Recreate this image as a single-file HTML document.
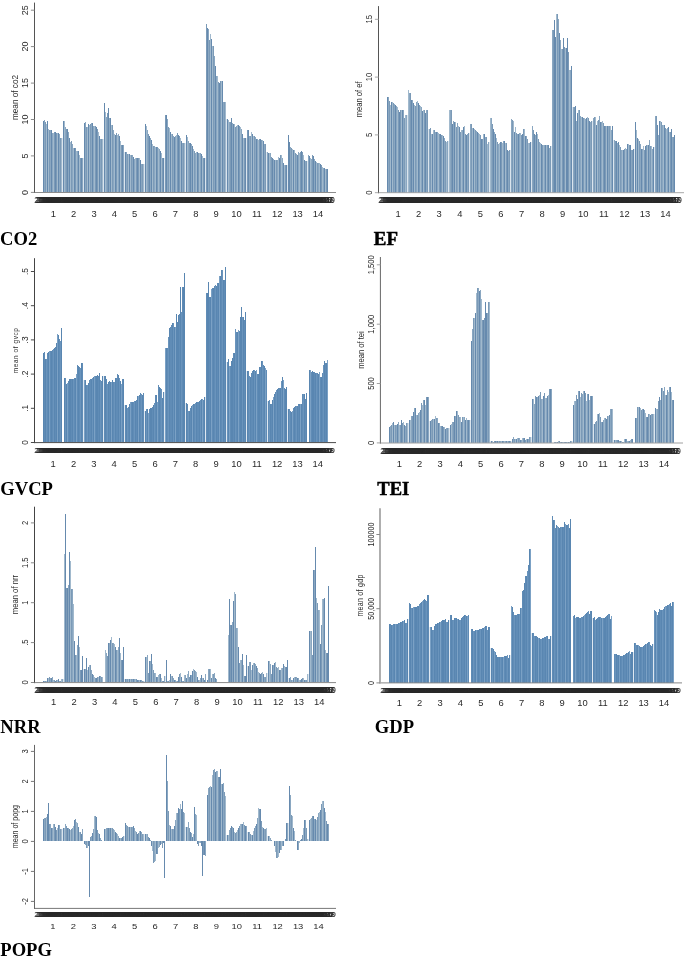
<!DOCTYPE html><html><head><meta charset="utf-8"><title>Figure</title><style>html,body{margin:0;padding:0;background:#fff}svg{display:block}text{font-family:"Liberation Sans",sans-serif;fill:#2a2a2a}.t{font-family:"Liberation Serif",serif;font-weight:bold;fill:#000}</style></head><body>
<svg width="685" height="957" viewBox="0 0 685 957">
<rect width="685" height="957" fill="#fff"/>
<g fill="none" stroke-width="1" shape-rendering="crispEdges">
<path stroke="#668aae" d="M43.5 192.0V120.7M47.5 192.0V121.2M51.5 192.0V129.5M55.5 192.0V132.3M58.5 192.0V133.2M63.5 192.0V121.3M67.5 192.0V129.3M69.5 192.0V138.1M74.5 192.0V148.4M78.5 192.0V151.4M81.5 192.0V158.1M84.5 192.0V122.6M88.5 192.0V123.5M92.5 192.0V123.1M96.5 192.0V126.9M99.5 192.0V135.5M104.5 192.0V103.0M108.5 192.0V107.9M110.5 192.0V118.2M115.5 192.0V134.7M119.5 192.0V136.2M122.5 192.0V144.6M125.5 192.0V151.7M129.5 192.0V153.7M133.5 192.0V157.4M137.5 192.0V158.1M140.5 192.0V160.0M145.5 192.0V123.5M149.5 192.0V136.3M151.5 192.0V140.0M156.5 192.0V147.2M160.5 192.0V150.6M163.5 192.0V157.8M166.5 192.0V115.4M170.5 192.0V131.6M174.5 192.0V136.8M178.5 192.0V135.2M181.5 192.0V141.0M186.5 192.0V135.4M190.5 192.0V142.6M192.5 192.0V146.1M197.5 192.0V152.3M201.5 192.0V153.9M204.5 192.0V158.0M207.5 192.0V28.2M211.5 192.0V39.3M215.5 192.0V66.3M219.5 192.0V82.7M222.5 192.0V80.8M227.5 192.0V119.3M231.5 192.0V117.5M233.5 192.0V123.9M238.5 192.0V124.6M242.5 192.0V134.1M245.5 192.0V138.0M248.5 192.0V130.3M252.5 192.0V134.3M256.5 192.0V139.3M260.5 192.0V138.8M263.5 192.0V141.4M268.5 192.0V152.5M272.5 192.0V157.9M274.5 192.0V159.5M279.5 192.0V157.5M283.5 192.0V162.7M286.5 192.0V165.0M288.5 192.0V135.4M289.5 192.0V141.5M293.5 192.0V149.6M297.5 192.0V154.5M301.5 192.0V151.0M304.5 192.0V159.8M309.5 192.0V155.5M313.5 192.0V155.6M315.5 192.0V160.7M320.5 192.0V164.3M324.5 192.0V168.4M327.5 192.0V169.0"/>
<path stroke="#7b9ab7" d="M45.5 192.0V121.8M49.5 192.0V129.6M54.5 192.0V131.7M56.5 192.0V132.8M60.5 192.0V138.4M66.5 192.0V129.3M71.5 192.0V141.0M75.5 192.0V148.0M80.5 192.0V158.1M86.5 192.0V126.8M90.5 192.0V123.6M95.5 192.0V126.2M97.5 192.0V129.0M101.5 192.0V139.1M107.5 192.0V113.3M112.5 192.0V125.4M116.5 192.0V132.7M121.5 192.0V144.6M127.5 192.0V153.6M131.5 192.0V155.1M136.5 192.0V158.1M138.5 192.0V158.1M142.5 192.0V163.6M148.5 192.0V134.0M153.5 192.0V145.5M157.5 192.0V147.4M162.5 192.0V157.8M165.5 192.0V115.2M168.5 192.0V127.3M172.5 192.0V134.0M177.5 192.0V132.7M179.5 192.0V135.8M183.5 192.0V143.0M189.5 192.0V142.9M194.5 192.0V151.4M198.5 192.0V152.7M203.5 192.0V157.8M206.5 192.0V23.9M209.5 192.0V39.9M213.5 192.0V46.4M218.5 192.0V82.4M220.5 192.0V80.8M224.5 192.0V101.7M230.5 192.0V122.0M235.5 192.0V126.7M239.5 192.0V125.8M244.5 192.0V137.8M247.5 192.0V130.1M250.5 192.0V136.2M254.5 192.0V136.1M259.5 192.0V138.9M261.5 192.0V140.1M265.5 192.0V144.2M271.5 192.0V157.3M276.5 192.0V160.2M280.5 192.0V154.7M285.5 192.0V164.9M291.5 192.0V147.9M295.5 192.0V153.4M300.5 192.0V152.1M302.5 192.0V152.3M306.5 192.0V160.9M312.5 192.0V155.0M317.5 192.0V162.9M321.5 192.0V165.4M326.5 192.0V169.0"/>
<path stroke="#8aa7c1" d="M44.5 192.0V120.1M50.5 192.0V129.9M52.5 192.0V133.1M59.5 192.0V134.3M65.5 192.0V126.9M68.5 192.0V132.2M72.5 192.0V144.2M77.5 192.0V150.5M82.5 192.0V158.1M85.5 192.0V122.3M91.5 192.0V122.6M93.5 192.0V126.0M100.5 192.0V138.5M106.5 192.0V116.7M109.5 192.0V117.6M113.5 192.0V130.2M118.5 192.0V134.0M123.5 192.0V144.6M126.5 192.0V152.3M132.5 192.0V155.1M134.5 192.0V159.0M141.5 192.0V163.6M147.5 192.0V129.7M150.5 192.0V137.9M154.5 192.0V146.4M159.5 192.0V148.8M167.5 192.0V119.0M173.5 192.0V136.4M175.5 192.0V136.3M182.5 192.0V142.9M188.5 192.0V141.4M191.5 192.0V144.1M195.5 192.0V152.5M200.5 192.0V153.4M208.5 192.0V28.6M214.5 192.0V56.4M216.5 192.0V75.7M223.5 192.0V101.7M229.5 192.0V122.0M232.5 192.0V123.2M236.5 192.0V126.2M241.5 192.0V129.0M249.5 192.0V135.9M255.5 192.0V137.0M257.5 192.0V139.4M264.5 192.0V144.0M267.5 192.0V152.1M270.5 192.0V153.4M273.5 192.0V158.6M277.5 192.0V160.4M282.5 192.0V158.4M290.5 192.0V146.8M296.5 192.0V153.9M298.5 192.0V152.3M305.5 192.0V160.8M308.5 192.0V155.0M311.5 192.0V158.5M314.5 192.0V159.0M318.5 192.0V163.1M323.5 192.0V167.6"/>
<path stroke="#a1b9cd" d="M46.5 192.0V123.9M48.5 192.0V129.3M53.5 192.0V133.1M57.5 192.0V133.2M61.5 192.0V138.4M64.5 192.0V121.3M70.5 192.0V142.3M73.5 192.0V148.0M76.5 192.0V150.5M79.5 192.0V155.2M87.5 192.0V126.8M89.5 192.0V124.8M94.5 192.0V126.1M98.5 192.0V132.2M102.5 192.0V139.4M105.5 192.0V111.6M111.5 192.0V125.3M114.5 192.0V133.7M117.5 192.0V135.0M120.5 192.0V140.9M128.5 192.0V153.7M130.5 192.0V154.7M135.5 192.0V158.2M139.5 192.0V158.1M143.5 192.0V163.6M146.5 192.0V126.4M152.5 192.0V144.0M155.5 192.0V146.9M158.5 192.0V147.5M161.5 192.0V153.1M169.5 192.0V128.0M171.5 192.0V134.0M176.5 192.0V134.7M180.5 192.0V137.9M184.5 192.0V143.1M187.5 192.0V137.4M193.5 192.0V148.9M196.5 192.0V152.0M199.5 192.0V153.0M202.5 192.0V155.8M210.5 192.0V34.2M212.5 192.0V45.8M217.5 192.0V76.3M221.5 192.0V80.8M225.5 192.0V101.7M228.5 192.0V119.8M234.5 192.0V124.1M237.5 192.0V124.8M240.5 192.0V127.0M243.5 192.0V137.7M251.5 192.0V132.2M253.5 192.0V135.9M258.5 192.0V139.5M262.5 192.0V139.7M269.5 192.0V153.0M275.5 192.0V160.0M278.5 192.0V157.2M281.5 192.0V155.1M284.5 192.0V164.8M292.5 192.0V148.8M294.5 192.0V150.0M299.5 192.0V152.9M303.5 192.0V154.8M310.5 192.0V157.6M316.5 192.0V162.0M319.5 192.0V163.3M322.5 192.0V166.6M325.5 192.0V169.0"/>
<path stroke="#dbe5ee" d="M62.5 192.0V138.4M83.5 192.0V158.1M103.5 192.0V139.4M124.5 192.0V151.7M144.5 192.0V163.6M164.5 192.0V157.8M185.5 192.0V143.1M205.5 192.0V158.0M226.5 192.0V119.3M246.5 192.0V138.0M266.5 192.0V152.1M287.5 192.0V165.0M307.5 192.0V160.9"/>
</g>
<path d="M34.0 192.5H336.0" fill="none" stroke="#8c8c8c" stroke-width="1"/>
<path d="M34.5 2.6V193.0" fill="none" stroke="#555" stroke-width="1.0"/>
<path d="M30.9 192.4H34.5" stroke="#8c8c8c" stroke-width="1"/>
<text font-size="9.0" fill="#2a2a2a" text-anchor="middle" transform="translate(28.1 192.4) rotate(-90) scale(1 1.08)">0</text>
<path d="M30.9 155.9H34.5" stroke="#8c8c8c" stroke-width="1"/>
<text font-size="9.0" fill="#2a2a2a" text-anchor="middle" transform="translate(28.1 155.9) rotate(-90) scale(1 1.08)">5</text>
<path d="M30.9 119.5H34.5" stroke="#8c8c8c" stroke-width="1"/>
<text font-size="9.0" fill="#2a2a2a" text-anchor="middle" transform="translate(28.1 119.5) rotate(-90) scale(1 1.08)">10</text>
<path d="M30.9 83.1H34.5" stroke="#8c8c8c" stroke-width="1"/>
<text font-size="9.0" fill="#2a2a2a" text-anchor="middle" transform="translate(28.1 83.1) rotate(-90) scale(1 1.08)">15</text>
<path d="M30.9 46.6H34.5" stroke="#8c8c8c" stroke-width="1"/>
<text font-size="9.0" fill="#2a2a2a" text-anchor="middle" transform="translate(28.1 46.6) rotate(-90) scale(1 1.08)">20</text>
<path d="M30.9 10.2H34.5" stroke="#8c8c8c" stroke-width="1"/>
<text font-size="9.0" fill="#2a2a2a" text-anchor="middle" transform="translate(28.1 10.2) rotate(-90) scale(1 1.08)">25</text>
<text font-size="8.2" fill="#2a2a2a" letter-spacing="0.0" text-anchor="middle" transform="translate(17.7 97.5) rotate(-90) scale(1 1.06)">mean of co2</text>
<text font-size="7.90" transform="translate(0 203.0) scale(1 1.184)" x="34.2 38.6 43.0 47.4 35.2 39.6 44.0 48.4 36.2 40.6 44.9 49.3 37.1 41.5 45.9 50.3 38.1 42.5 46.9 51.3 39.1 43.5 47.9 52.3 40.1 44.5 48.9 53.2 41.0 45.4 49.8 54.2 42.0 46.4 50.8 55.2 43.0 47.4 51.8 56.2 44.0 48.4 52.8 57.2 45.0 49.4 53.7 58.1 45.9 50.3 54.7 59.1 46.9 51.3 55.7 60.1 47.9 52.3 56.7 61.1 48.9 53.3 57.7 62.0 49.8 54.2 58.6 63.0 50.8 55.2 59.6 64.0 51.8 56.2 60.6 65.0 52.8 57.2 61.6 66.0" fill="#323232">20002001200220032004200520062007200820092010201120122013201420152016201720182019</text>
<text font-size="7.90" transform="translate(0 203.0) scale(1 1.184)" x="54.6 59.0 63.3 67.7 55.5 59.9 64.3 68.7 56.5 60.9 65.3 69.7 57.5 61.9 66.3 70.7 58.5 62.9 67.3 71.6 59.5 63.8 68.2 72.6 60.4 64.8 69.2 73.6 61.4 65.8 70.2 74.6 62.4 66.8 71.2 75.6 63.4 67.8 72.1 76.5 64.3 68.7 73.1 77.5 65.3 69.7 74.1 78.5 66.3 70.7 75.1 79.5 67.3 71.7 76.1 80.5 68.3 72.6 77.0 81.4 69.2 73.6 78.0 82.4 70.2 74.6 79.0 83.4 71.2 75.6 80.0 84.4 72.2 76.6 80.9 85.3 73.1 77.5 81.9 86.3" fill="#323232">20002001200220032004200520062007200820092010201120122013201420152016201720182019</text>
<text font-size="7.90" transform="translate(0 203.0) scale(1 1.184)" x="74.9 79.3 83.7 88.1 75.9 80.3 84.7 89.1 76.9 81.3 85.7 90.1 77.9 82.2 86.6 91.0 78.8 83.2 87.6 92.0 79.8 84.2 88.6 93.0 80.8 85.2 89.6 94.0 81.8 86.2 90.5 94.9 82.7 87.1 91.5 95.9 83.7 88.1 92.5 96.9 84.7 89.1 93.5 97.9 85.7 90.1 94.5 98.9 86.7 91.0 95.4 99.8 87.6 92.0 96.4 100.8 88.6 93.0 97.4 101.8 89.6 94.0 98.4 102.8 90.6 95.0 99.3 103.7 91.5 95.9 100.3 104.7 92.5 96.9 101.3 105.7 93.5 97.9 102.3 106.7" fill="#323232">20002001200220032004200520062007200820092010201120122013201420152016201720182019</text>
<text font-size="7.90" transform="translate(0 203.0) scale(1 1.184)" x="95.3 99.7 104.1 108.5 96.3 100.6 105.0 109.4 97.2 101.6 106.0 110.4 98.2 102.6 107.0 111.4 99.2 103.6 108.0 112.4 100.2 104.6 108.9 113.3 101.1 105.5 109.9 114.3 102.1 106.5 110.9 115.3 103.1 107.5 111.9 116.3 104.1 108.5 112.9 117.3 105.1 109.4 113.8 118.2 106.0 110.4 114.8 119.2 107.0 111.4 115.8 120.2 108.0 112.4 116.8 121.2 109.0 113.4 117.8 122.1 109.9 114.3 118.7 123.1 110.9 115.3 119.7 124.1 111.9 116.3 120.7 125.1 112.9 117.3 121.7 126.1 113.9 118.2 122.6 127.0" fill="#323232">20002001200220032004200520062007200820092010201120122013201420152016201720182019</text>
<text font-size="7.90" transform="translate(0 203.0) scale(1 1.184)" x="115.6 120.0 124.4 128.8 116.6 121.0 125.4 129.8 117.6 122.0 126.4 130.8 118.6 123.0 127.4 131.7 119.5 123.9 128.3 132.7 120.5 124.9 129.3 133.7 121.5 125.9 130.3 134.7 122.5 126.9 131.3 135.7 123.5 127.8 132.2 136.6 124.4 128.8 133.2 137.6 125.4 129.8 134.2 138.6 126.4 130.8 135.2 139.6 127.4 131.8 136.2 140.5 128.3 132.7 137.1 141.5 129.3 133.7 138.1 142.5 130.3 134.7 139.1 143.5 131.3 135.7 140.1 144.5 132.3 136.6 141.0 145.4 133.2 137.6 142.0 146.4 134.2 138.6 143.0 147.4" fill="#323232">20002001200220032004200520062007200820092010201120122013201420152016201720182019</text>
<text font-size="7.90" transform="translate(0 203.0) scale(1 1.184)" x="136.0 140.4 144.8 149.2 137.0 141.4 145.8 150.1 137.9 142.3 146.7 151.1 138.9 143.3 147.7 152.1 139.9 144.3 148.7 153.1 140.9 145.3 149.7 154.1 141.9 146.2 150.6 155.0 142.8 147.2 151.6 156.0 143.8 148.2 152.6 157.0 144.8 149.2 153.6 158.0 145.8 150.2 154.6 158.9 146.7 151.1 155.5 159.9 147.7 152.1 156.5 160.9 148.7 153.1 157.5 161.9 149.7 154.1 158.5 162.9 150.7 155.1 159.4 163.8 151.6 156.0 160.4 164.8 152.6 157.0 161.4 165.8 153.6 158.0 162.4 166.8 154.6 159.0 163.4 167.7" fill="#323232">20002001200220032004200520062007200820092010201120122013201420152016201720182019</text>
<text font-size="7.90" transform="translate(0 203.0) scale(1 1.184)" x="156.3 160.7 165.1 169.5 157.3 161.7 166.1 170.5 158.3 162.7 167.1 171.5 159.3 163.7 168.1 172.5 160.3 164.7 169.0 173.4 161.2 165.6 170.0 174.4 162.2 166.6 171.0 175.4 163.2 167.6 172.0 176.4 164.2 168.6 173.0 177.3 165.1 169.5 173.9 178.3 166.1 170.5 174.9 179.3 167.1 171.5 175.9 180.3 168.1 172.5 176.9 181.3 169.1 173.5 177.8 182.2 170.0 174.4 178.8 183.2 171.0 175.4 179.8 184.2 172.0 176.4 180.8 185.2 173.0 177.4 181.8 186.1 173.9 178.3 182.7 187.1 174.9 179.3 183.7 188.1" fill="#323232">20002001200220032004200520062007200820092010201120122013201420152016201720182019</text>
<text font-size="7.90" transform="translate(0 203.0) scale(1 1.184)" x="176.7 181.1 185.5 189.9 177.7 182.1 186.5 190.9 178.7 183.1 187.4 191.8 179.6 184.0 188.4 192.8 180.6 185.0 189.4 193.8 181.6 186.0 190.4 194.8 182.6 187.0 191.4 195.7 183.5 187.9 192.3 196.7 184.5 188.9 193.3 197.7 185.5 189.9 194.3 198.7 186.5 190.9 195.3 199.7 187.5 191.9 196.2 200.6 188.4 192.8 197.2 201.6 189.4 193.8 198.2 202.6 190.4 194.8 199.2 203.6 191.4 195.8 200.2 204.5 192.3 196.7 201.1 205.5 193.3 197.7 202.1 206.5 194.3 198.7 203.1 207.5 195.3 199.7 204.1 208.5" fill="#323232">20002001200220032004200520062007200820092010201120122013201420152016201720182019</text>
<text font-size="7.90" transform="translate(0 203.0) scale(1 1.184)" x="197.1 201.5 205.8 210.2 198.0 202.4 206.8 211.2 199.0 203.4 207.8 212.2 200.0 204.4 208.8 213.2 201.0 205.4 209.8 214.1 202.0 206.3 210.7 215.1 202.9 207.3 211.7 216.1 203.9 208.3 212.7 217.1 204.9 209.3 213.7 218.1 205.9 210.3 214.6 219.0 206.8 211.2 215.6 220.0 207.8 212.2 216.6 221.0 208.8 213.2 217.6 222.0 209.8 214.2 218.6 223.0 210.8 215.1 219.5 223.9 211.7 216.1 220.5 224.9 212.7 217.1 221.5 225.9 213.7 218.1 222.5 226.9 214.7 219.1 223.4 227.8 215.6 220.0 224.4 228.8" fill="#323232">20002001200220032004200520062007200820092010201120122013201420152016201720182019</text>
<text font-size="7.90" transform="translate(0 203.0) scale(1 1.184)" x="217.4 221.8 226.2 230.6 218.4 222.8 227.2 231.6 219.4 223.8 228.2 232.6 220.4 224.7 229.1 233.5 221.3 225.7 230.1 234.5 222.3 226.7 231.1 235.5 223.3 227.7 232.1 236.5 224.3 228.7 233.0 237.4 225.2 229.6 234.0 238.4 226.2 230.6 235.0 239.4 227.2 231.6 236.0 240.4 228.2 232.6 237.0 241.4 229.2 233.5 237.9 242.3 230.1 234.5 238.9 243.3 231.1 235.5 239.9 244.3 232.1 236.5 240.9 245.3 233.1 237.5 241.8 246.2 234.0 238.4 242.8 247.2 235.0 239.4 243.8 248.2 236.0 240.4 244.8 249.2" fill="#323232">20002001200220032004200520062007200820092010201120122013201420152016201720182019</text>
<text font-size="7.90" transform="translate(0 203.0) scale(1 1.184)" x="237.8 242.2 246.6 251.0 238.8 243.1 247.5 251.9 239.7 244.1 248.5 252.9 240.7 245.1 249.5 253.9 241.7 246.1 250.5 254.9 242.7 247.1 251.4 255.8 243.6 248.0 252.4 256.8 244.6 249.0 253.4 257.8 245.6 250.0 254.4 258.8 246.6 251.0 255.4 259.8 247.6 251.9 256.3 260.7 248.5 252.9 257.3 261.7 249.5 253.9 258.3 262.7 250.5 254.9 259.3 263.7 251.5 255.9 260.3 264.6 252.4 256.8 261.2 265.6 253.4 257.8 262.2 266.6 254.4 258.8 263.2 267.6 255.4 259.8 264.2 268.6 256.4 260.7 265.1 269.5" fill="#323232">20002001200220032004200520062007200820092010201120122013201420152016201720182019</text>
<text font-size="7.90" transform="translate(0 203.0) scale(1 1.184)" x="258.1 262.5 266.9 271.3 259.1 263.5 267.9 272.3 260.1 264.5 268.9 273.3 261.1 265.5 269.9 274.2 262.0 266.4 270.8 275.2 263.0 267.4 271.8 276.2 264.0 268.4 272.8 277.2 265.0 269.4 273.8 278.2 266.0 270.3 274.7 279.1 266.9 271.3 275.7 280.1 267.9 272.3 276.7 281.1 268.9 273.3 277.7 282.1 269.9 274.3 278.7 283.0 270.8 275.2 279.6 284.0 271.8 276.2 280.6 285.0 272.8 277.2 281.6 286.0 273.8 278.2 282.6 287.0 274.8 279.1 283.5 287.9 275.7 280.1 284.5 288.9 276.7 281.1 285.5 289.9" fill="#323232">20002001200220032004200520062007200820092010201120122013201420152016201720182019</text>
<text font-size="7.90" transform="translate(0 203.0) scale(1 1.184)" x="278.5 282.9 287.3 291.7 279.5 283.9 288.3 292.6 280.4 284.8 289.2 293.6 281.4 285.8 290.2 294.6 282.4 286.8 291.2 295.6 283.4 287.8 292.2 296.6 284.4 288.7 293.1 297.5 285.3 289.7 294.1 298.5 286.3 290.7 295.1 299.5 287.3 291.7 296.1 300.5 288.3 292.7 297.1 301.4 289.2 293.6 298.0 302.4 290.2 294.6 299.0 303.4 291.2 295.6 300.0 304.4 292.2 296.6 301.0 305.4 293.2 297.6 301.9 306.3 294.1 298.5 302.9 307.3 295.1 299.5 303.9 308.3 296.1 300.5 304.9 309.3 297.1 301.5 305.9 310.2" fill="#323232">20002001200220032004200520062007200820092010201120122013201420152016201720182019</text>
<text font-size="7.90" transform="translate(0 203.0) scale(1 1.184)" x="298.8 303.2 307.6 312.0 299.8 304.2 308.6 313.0 300.8 305.2 309.6 314.0 301.8 306.2 310.6 315.0 302.8 307.2 311.5 315.9 303.7 308.1 312.5 316.9 304.7 309.1 313.5 317.9 305.7 310.1 314.5 318.9 306.7 311.1 315.5 319.8 307.6 312.0 316.4 320.8 308.6 313.0 317.4 321.8 309.6 314.0 318.4 322.8 310.6 315.0 319.4 323.8 311.6 316.0 320.3 324.7 312.5 316.9 321.3 325.7 313.5 317.9 322.3 326.7 314.5 318.9 323.3 327.7 315.5 319.9 324.3 328.6 316.4 320.8 325.2 329.6 317.4 321.8 326.2 330.6" fill="#323232">20002001200220032004200520062007200820092010201120122013201420152016201720182019</text>
<text font-size="9.4" fill="#2a2a2a" text-anchor="middle" transform="translate(53.3 216.8) scale(1 0.98)">1</text>
<text font-size="9.4" fill="#2a2a2a" text-anchor="middle" transform="translate(73.6 216.8) scale(1 0.98)">2</text>
<text font-size="9.4" fill="#2a2a2a" text-anchor="middle" transform="translate(94.0 216.8) scale(1 0.98)">3</text>
<text font-size="9.4" fill="#2a2a2a" text-anchor="middle" transform="translate(114.4 216.8) scale(1 0.98)">4</text>
<text font-size="9.4" fill="#2a2a2a" text-anchor="middle" transform="translate(134.7 216.8) scale(1 0.98)">5</text>
<text font-size="9.4" fill="#2a2a2a" text-anchor="middle" transform="translate(155.1 216.8) scale(1 0.98)">6</text>
<text font-size="9.4" fill="#2a2a2a" text-anchor="middle" transform="translate(175.4 216.8) scale(1 0.98)">7</text>
<text font-size="9.4" fill="#2a2a2a" text-anchor="middle" transform="translate(195.8 216.8) scale(1 0.98)">8</text>
<text font-size="9.4" fill="#2a2a2a" text-anchor="middle" transform="translate(216.1 216.8) scale(1 0.98)">9</text>
<text font-size="9.4" fill="#2a2a2a" text-anchor="middle" transform="translate(236.5 216.8) scale(1 0.98)">10</text>
<text font-size="9.4" fill="#2a2a2a" text-anchor="middle" transform="translate(256.8 216.8) scale(1 0.98)">11</text>
<text font-size="9.4" fill="#2a2a2a" text-anchor="middle" transform="translate(277.2 216.8) scale(1 0.98)">12</text>
<text font-size="9.4" fill="#2a2a2a" text-anchor="middle" transform="translate(297.6 216.8) scale(1 0.98)">13</text>
<text font-size="9.4" fill="#2a2a2a" text-anchor="middle" transform="translate(317.9 216.8) scale(1 0.98)">14</text>
<text class="t" font-size="18.6" stroke="#000" stroke-width="0.0" transform="translate(0.0 244.8) scale(1 1.06)">CO2</text>
<g fill="none" stroke-width="1" shape-rendering="crispEdges">
<path stroke="#668aae" d="M387.5 192.6V96.5M391.5 192.6V101.6M395.5 192.6V104.7M399.5 192.6V112.1M402.5 192.6V109.6M411.5 192.6V99.7M413.5 192.6V102.6M418.5 192.6V102.9M422.5 192.6V110.5M425.5 192.6V112.8M432.5 192.6V134.1M436.5 192.6V132.0M440.5 192.6V134.2M443.5 192.6V136.2M452.5 192.6V124.0M454.5 192.6V122.0M459.5 192.6V126.7M463.5 192.6V127.3M466.5 192.6V135.2M473.5 192.6V128.4M477.5 192.6V132.0M481.5 192.6V138.9M484.5 192.6V134.4M493.5 192.6V129.1M495.5 192.6V133.6M500.5 192.6V141.6M504.5 192.6V141.3M507.5 192.6V150.3M514.5 192.6V131.7M518.5 192.6V134.2M522.5 192.6V134.4M525.5 192.6V135.7M530.5 192.6V141.7M534.5 192.6V134.2M536.5 192.6V132.0M541.5 192.6V143.6M545.5 192.6V145.4M548.5 192.6V144.6M554.5 192.6V20.3M555.5 192.6V36.8M559.5 192.6V33.3M563.5 192.6V38.1M566.5 192.6V48.1M567.5 192.6V38.3M571.5 192.6V66.0M575.5 192.6V106.4M577.5 192.6V113.2M582.5 192.6V117.4M586.5 192.6V117.6M589.5 192.6V121.1M596.5 192.6V124.9M600.5 192.6V122.0M604.5 192.6V126.0M607.5 192.6V126.0M612.5 192.6V126.4M616.5 192.6V141.4M618.5 192.6V141.9M623.5 192.6V149.5M627.5 192.6V143.9M630.5 192.6V144.9M633.5 192.6V149.3M635.5 192.6V121.9M637.5 192.6V138.1M641.5 192.6V148.8M645.5 192.6V145.8M648.5 192.6V144.8M653.5 192.6V147.3M657.5 192.6V125.2M659.5 192.6V120.5M664.5 192.6V125.4M668.5 192.6V127.3M671.5 192.6V129.3M674.5 192.6V135.1"/>
<path stroke="#7b9ab7" d="M389.5 192.6V100.8M393.5 192.6V102.7M398.5 192.6V110.0M400.5 192.6V110.2M404.5 192.6V117.8M410.5 192.6V93.1M415.5 192.6V105.9M419.5 192.6V105.3M424.5 192.6V110.4M427.5 192.6V110.3M430.5 192.6V128.3M434.5 192.6V130.2M439.5 192.6V133.8M441.5 192.6V134.5M445.5 192.6V141.0M451.5 192.6V109.6M456.5 192.6V127.0M460.5 192.6V131.8M465.5 192.6V133.6M468.5 192.6V133.2M471.5 192.6V124.0M475.5 192.6V129.9M480.5 192.6V135.0M482.5 192.6V139.1M486.5 192.6V137.0M492.5 192.6V124.2M497.5 192.6V141.9M501.5 192.6V142.2M506.5 192.6V143.4M509.5 192.6V149.7M512.5 192.6V120.1M516.5 192.6V132.9M521.5 192.6V134.7M523.5 192.6V129.3M527.5 192.6V138.5M533.5 192.6V130.2M538.5 192.6V139.1M542.5 192.6V144.5M547.5 192.6V144.6M550.5 192.6V146.1M553.5 192.6V30.1M557.5 192.6V14.1M562.5 192.6V49.1M564.5 192.6V46.9M568.5 192.6V51.5M574.5 192.6V106.7M579.5 192.6V110.3M583.5 192.6V117.7M588.5 192.6V117.6M591.5 192.6V121.3M594.5 192.6V117.4M598.5 192.6V120.2M603.5 192.6V122.5M605.5 192.6V126.2M609.5 192.6V125.9M615.5 192.6V140.5M620.5 192.6V146.6M624.5 192.6V148.7M629.5 192.6V144.6M632.5 192.6V149.7M639.5 192.6V140.7M644.5 192.6V149.7M646.5 192.6V145.1M650.5 192.6V146.1M656.5 192.6V116.2M661.5 192.6V121.6M665.5 192.6V128.1M670.5 192.6V131.7M673.5 192.6V136.6"/>
<path stroke="#8aa7c1" d="M388.5 192.6V96.7M394.5 192.6V103.7M396.5 192.6V105.8M403.5 192.6V109.6M406.5 192.6V115.2M409.5 192.6V93.1M412.5 192.6V99.7M416.5 192.6V101.5M421.5 192.6V106.9M426.5 192.6V110.3M429.5 192.6V128.5M435.5 192.6V131.8M437.5 192.6V132.2M444.5 192.6V138.1M447.5 192.6V141.2M450.5 192.6V109.9M453.5 192.6V120.7M457.5 192.6V122.7M462.5 192.6V129.5M467.5 192.6V133.6M470.5 192.6V124.2M476.5 192.6V131.0M478.5 192.6V133.0M485.5 192.6V137.2M488.5 192.6V142.2M491.5 192.6V117.7M494.5 192.6V131.8M498.5 192.6V143.9M503.5 192.6V141.0M508.5 192.6V150.7M511.5 192.6V119.1M517.5 192.6V134.0M519.5 192.6V133.3M526.5 192.6V136.1M529.5 192.6V142.9M532.5 192.6V126.2M535.5 192.6V135.1M539.5 192.6V141.7M544.5 192.6V145.4M549.5 192.6V148.1M552.5 192.6V30.1M558.5 192.6V18.8M560.5 192.6V40.1M570.5 192.6V70.0M573.5 192.6V106.9M576.5 192.6V121.3M580.5 192.6V115.6M585.5 192.6V118.6M590.5 192.6V122.1M593.5 192.6V118.0M599.5 192.6V116.2M601.5 192.6V121.9M608.5 192.6V125.9M611.5 192.6V130.0M614.5 192.6V140.3M617.5 192.6V143.1M621.5 192.6V149.8M626.5 192.6V148.7M631.5 192.6V150.1M640.5 192.6V144.1M642.5 192.6V149.0M649.5 192.6V140.3M652.5 192.6V148.6M655.5 192.6V116.2M658.5 192.6V135.0M662.5 192.6V125.4M667.5 192.6V128.1M672.5 192.6V136.6"/>
<path stroke="#a1b9cd" d="M390.5 192.6V105.2M392.5 192.6V102.0M397.5 192.6V107.3M401.5 192.6V109.7M405.5 192.6V115.4M408.5 192.6V89.6M414.5 192.6V105.4M417.5 192.6V100.7M420.5 192.6V106.2M423.5 192.6V110.4M431.5 192.6V133.7M433.5 192.6V129.7M438.5 192.6V133.2M442.5 192.6V134.7M446.5 192.6V142.4M449.5 192.6V110.2M455.5 192.6V122.3M458.5 192.6V126.4M461.5 192.6V129.9M464.5 192.6V125.9M472.5 192.6V127.7M474.5 192.6V128.8M479.5 192.6V134.0M483.5 192.6V134.4M487.5 192.6V143.8M490.5 192.6V118.0M496.5 192.6V137.5M499.5 192.6V143.2M502.5 192.6V143.2M505.5 192.6V143.2M513.5 192.6V120.5M515.5 192.6V127.4M520.5 192.6V133.1M524.5 192.6V129.3M528.5 192.6V142.6M537.5 192.6V134.4M540.5 192.6V142.9M543.5 192.6V145.4M546.5 192.6V145.2M556.5 192.6V14.1M561.5 192.6V49.1M565.5 192.6V48.1M569.5 192.6V70.0M578.5 192.6V109.9M581.5 192.6V117.0M584.5 192.6V118.0M587.5 192.6V117.2M595.5 192.6V116.9M597.5 192.6V120.5M602.5 192.6V121.3M606.5 192.6V126.3M610.5 192.6V125.9M619.5 192.6V144.6M622.5 192.6V150.1M625.5 192.6V148.4M628.5 192.6V143.9M636.5 192.6V129.9M638.5 192.6V138.5M643.5 192.6V145.8M647.5 192.6V144.5M651.5 192.6V146.3M660.5 192.6V120.5M663.5 192.6V125.4M666.5 192.6V129.3M669.5 192.6V131.5"/>
<path stroke="#dbe5ee" d="M407.5 192.6V115.2M428.5 192.6V128.5M448.5 192.6V141.2M469.5 192.6V133.2M489.5 192.6V142.2M510.5 192.6V149.7M531.5 192.6V141.7M551.5 192.6V146.1M572.5 192.6V106.9M592.5 192.6V121.3M613.5 192.6V140.3M634.5 192.6V149.3M654.5 192.6V147.3"/>
</g>
<path d="M378.0 192.7H684.0" fill="none" stroke="#a8a8a8" stroke-width="1"/>
<path d="M378.5 6.1V193.2" fill="none" stroke="#555" stroke-width="1.0"/>
<path d="M374.9 192.7H378.5" stroke="#a8a8a8" stroke-width="1"/>
<text font-size="7.6" fill="#2a2a2a" text-anchor="middle" transform="translate(372.1 192.7) rotate(-90) scale(1 1.14)">0</text>
<path d="M374.9 134.9H378.5" stroke="#a8a8a8" stroke-width="1"/>
<text font-size="7.6" fill="#2a2a2a" text-anchor="middle" transform="translate(372.1 134.9) rotate(-90) scale(1 1.14)">5</text>
<path d="M374.9 77.1H378.5" stroke="#a8a8a8" stroke-width="1"/>
<text font-size="7.6" fill="#2a2a2a" text-anchor="middle" transform="translate(372.1 77.1) rotate(-90) scale(1 1.14)">10</text>
<path d="M374.9 19.3H378.5" stroke="#a8a8a8" stroke-width="1"/>
<text font-size="7.6" fill="#2a2a2a" text-anchor="middle" transform="translate(372.1 19.3) rotate(-90) scale(1 1.14)">15</text>
<text font-size="7.6" fill="#2a2a2a" letter-spacing="0.0" text-anchor="middle" transform="translate(361.7 99.4) rotate(-90) scale(1 1.14)">mean of ef</text>
<text font-size="7.90" transform="translate(0 203.4) scale(1 1.131)" x="378.2 382.6 387.0 391.4 379.2 383.6 388.0 392.4 380.2 384.6 389.0 393.4 381.2 385.6 390.0 394.4 382.2 386.6 390.9 395.3 383.2 387.5 391.9 396.3 384.1 388.5 392.9 397.3 385.1 389.5 393.9 398.3 386.1 390.5 394.9 399.3 387.1 391.5 395.9 400.3 388.1 392.5 396.9 401.3 389.1 393.5 397.9 402.3 390.1 394.5 398.9 403.2 391.1 395.5 399.8 404.2 392.0 396.4 400.8 405.2 393.0 397.4 401.8 406.2 394.0 398.4 402.8 407.2 395.0 399.4 403.8 408.2 396.0 400.4 404.8 409.2 397.0 401.4 405.8 410.2" fill="#323232">20002001200220032004200520062007200820092010201120122013201420152016201720182019</text>
<text font-size="7.90" transform="translate(0 203.4) scale(1 1.131)" x="398.8 403.2 407.6 412.0 399.8 404.2 408.6 412.9 400.8 405.2 409.5 413.9 401.7 406.1 410.5 414.9 402.7 407.1 411.5 415.9 403.7 408.1 412.5 416.9 404.7 409.1 413.5 417.9 405.7 410.1 414.5 418.9 406.7 411.1 415.5 419.9 407.7 412.1 416.5 420.9 408.7 413.1 417.5 421.8 409.7 414.0 418.4 422.8 410.6 415.0 419.4 423.8 411.6 416.0 420.4 424.8 412.6 417.0 421.4 425.8 413.6 418.0 422.4 426.8 414.6 419.0 423.4 427.8 415.6 420.0 424.4 428.8 416.6 421.0 425.4 429.8 417.6 422.0 426.3 430.7" fill="#323232">20002001200220032004200520062007200820092010201120122013201420152016201720182019</text>
<text font-size="7.90" transform="translate(0 203.4) scale(1 1.131)" x="419.4 423.7 428.1 432.5 420.3 424.7 429.1 433.5 421.3 425.7 430.1 434.5 422.3 426.7 431.1 435.5 423.3 427.7 432.1 436.5 424.3 428.7 433.1 437.5 425.3 429.7 434.1 438.5 426.3 430.7 435.1 439.4 427.3 431.7 436.0 440.4 428.2 432.6 437.0 441.4 429.2 433.6 438.0 442.4 430.2 434.6 439.0 443.4 431.2 435.6 440.0 444.4 432.2 436.6 441.0 445.4 433.2 437.6 442.0 446.4 434.2 438.6 443.0 447.4 435.2 439.6 444.0 448.3 436.2 440.6 444.9 449.3 437.1 441.5 445.9 450.3 438.1 442.5 446.9 451.3" fill="#323232">20002001200220032004200520062007200820092010201120122013201420152016201720182019</text>
<text font-size="7.90" transform="translate(0 203.4) scale(1 1.131)" x="439.9 444.3 448.7 453.1 440.9 445.3 449.7 454.1 441.9 446.3 450.7 455.1 442.9 447.3 451.7 456.1 443.9 448.3 452.7 457.1 444.9 449.3 453.7 458.0 445.9 450.2 454.6 459.0 446.8 451.2 455.6 460.0 447.8 452.2 456.6 461.0 448.8 453.2 457.6 462.0 449.8 454.2 458.6 463.0 450.8 455.2 459.6 464.0 451.8 456.2 460.6 465.0 452.8 457.2 461.6 466.0 453.8 458.2 462.5 466.9 454.8 459.1 463.5 467.9 455.7 460.1 464.5 468.9 456.7 461.1 465.5 469.9 457.7 462.1 466.5 470.9 458.7 463.1 467.5 471.9" fill="#323232">20002001200220032004200520062007200820092010201120122013201420152016201720182019</text>
<text font-size="7.90" transform="translate(0 203.4) scale(1 1.131)" x="460.5 464.9 469.3 473.7 461.5 465.9 470.3 474.7 462.5 466.9 471.3 475.6 463.5 467.9 472.2 476.6 464.4 468.8 473.2 477.6 465.4 469.8 474.2 478.6 466.4 470.8 475.2 479.6 467.4 471.8 476.2 480.6 468.4 472.8 477.2 481.6 469.4 473.8 478.2 482.6 470.4 474.8 479.2 483.6 471.4 475.8 480.2 484.5 472.4 476.8 481.1 485.5 473.3 477.7 482.1 486.5 474.3 478.7 483.1 487.5 475.3 479.7 484.1 488.5 476.3 480.7 485.1 489.5 477.3 481.7 486.1 490.5 478.3 482.7 487.1 491.5 479.3 483.7 488.1 492.5" fill="#323232">20002001200220032004200520062007200820092010201120122013201420152016201720182019</text>
<text font-size="7.90" transform="translate(0 203.4) scale(1 1.131)" x="481.1 485.5 489.9 494.2 482.1 486.4 490.8 495.2 483.0 487.4 491.8 496.2 484.0 488.4 492.8 497.2 485.0 489.4 493.8 498.2 486.0 490.4 494.8 499.2 487.0 491.4 495.8 500.2 488.0 492.4 496.8 501.2 489.0 493.4 497.8 502.2 490.0 494.4 498.7 503.1 491.0 495.3 499.7 504.1 491.9 496.3 500.7 505.1 492.9 497.3 501.7 506.1 493.9 498.3 502.7 507.1 494.9 499.3 503.7 508.1 495.9 500.3 504.7 509.1 496.9 501.3 505.7 510.1 497.9 502.3 506.7 511.0 498.9 503.3 507.6 512.0 499.8 504.2 508.6 513.0" fill="#323232">20002001200220032004200520062007200820092010201120122013201420152016201720182019</text>
<text font-size="7.90" transform="translate(0 203.4) scale(1 1.131)" x="501.6 506.0 510.4 514.8 502.6 507.0 511.4 515.8 503.6 508.0 512.4 516.8 504.6 509.0 513.4 517.8 505.6 510.0 514.4 518.8 506.6 511.0 515.4 519.8 507.6 512.0 516.4 520.7 508.6 513.0 517.3 521.7 509.5 513.9 518.3 522.7 510.5 514.9 519.3 523.7 511.5 515.9 520.3 524.7 512.5 516.9 521.3 525.7 513.5 517.9 522.3 526.7 514.5 518.9 523.3 527.7 515.5 519.9 524.3 528.7 516.5 520.9 525.3 529.6 517.5 521.8 526.2 530.6 518.4 522.8 527.2 531.6 519.4 523.8 528.2 532.6 520.4 524.8 529.2 533.6" fill="#323232">20002001200220032004200520062007200820092010201120122013201420152016201720182019</text>
<text font-size="7.90" transform="translate(0 203.4) scale(1 1.131)" x="522.2 526.6 531.0 535.4 523.2 527.6 532.0 536.4 524.2 528.6 533.0 537.4 525.2 529.6 534.0 538.4 526.2 530.6 534.9 539.3 527.2 531.5 535.9 540.3 528.1 532.5 536.9 541.3 529.1 533.5 537.9 542.3 530.1 534.5 538.9 543.3 531.1 535.5 539.9 544.3 532.1 536.5 540.9 545.3 533.1 537.5 541.9 546.3 534.1 538.5 542.9 547.2 535.1 539.5 543.8 548.2 536.0 540.4 544.8 549.2 537.0 541.4 545.8 550.2 538.0 542.4 546.8 551.2 539.0 543.4 547.8 552.2 540.0 544.4 548.8 553.2 541.0 545.4 549.8 554.2" fill="#323232">20002001200220032004200520062007200820092010201120122013201420152016201720182019</text>
<text font-size="7.90" transform="translate(0 203.4) scale(1 1.131)" x="542.8 547.2 551.6 556.0 543.8 548.2 552.6 556.9 544.8 549.2 553.5 557.9 545.7 550.1 554.5 558.9 546.7 551.1 555.5 559.9 547.7 552.1 556.5 560.9 548.7 553.1 557.5 561.9 549.7 554.1 558.5 562.9 550.7 555.1 559.5 563.9 551.7 556.1 560.5 564.9 552.7 557.1 561.5 565.8 553.7 558.0 562.4 566.8 554.6 559.0 563.4 567.8 555.6 560.0 564.4 568.8 556.6 561.0 565.4 569.8 557.6 562.0 566.4 570.8 558.6 563.0 567.4 571.8 559.6 564.0 568.4 572.8 560.6 565.0 569.4 573.8 561.6 566.0 570.3 574.7" fill="#323232">20002001200220032004200520062007200820092010201120122013201420152016201720182019</text>
<text font-size="7.90" transform="translate(0 203.4) scale(1 1.131)" x="563.4 567.7 572.1 576.5 564.3 568.7 573.1 577.5 565.3 569.7 574.1 578.5 566.3 570.7 575.1 579.5 567.3 571.7 576.1 580.5 568.3 572.7 577.1 581.5 569.3 573.7 578.1 582.5 570.3 574.7 579.1 583.4 571.3 575.7 580.0 584.4 572.2 576.6 581.0 585.4 573.2 577.6 582.0 586.4 574.2 578.6 583.0 587.4 575.2 579.6 584.0 588.4 576.2 580.6 585.0 589.4 577.2 581.6 586.0 590.4 578.2 582.6 587.0 591.4 579.2 583.6 588.0 592.3 580.2 584.6 588.9 593.3 581.1 585.5 589.9 594.3 582.1 586.5 590.9 595.3" fill="#323232">20002001200220032004200520062007200820092010201120122013201420152016201720182019</text>
<text font-size="7.90" transform="translate(0 203.4) scale(1 1.131)" x="583.9 588.3 592.7 597.1 584.9 589.3 593.7 598.1 585.9 590.3 594.7 599.1 586.9 591.3 595.7 600.1 587.9 592.3 596.7 601.1 588.9 593.3 597.7 602.0 589.9 594.2 598.6 603.0 590.8 595.2 599.6 604.0 591.8 596.2 600.6 605.0 592.8 597.2 601.6 606.0 593.8 598.2 602.6 607.0 594.8 599.2 603.6 608.0 595.8 600.2 604.6 609.0 596.8 601.2 605.6 610.0 597.8 602.2 606.5 610.9 598.8 603.1 607.5 611.9 599.7 604.1 608.5 612.9 600.7 605.1 609.5 613.9 601.7 606.1 610.5 614.9 602.7 607.1 611.5 615.9" fill="#323232">20002001200220032004200520062007200820092010201120122013201420152016201720182019</text>
<text font-size="7.90" transform="translate(0 203.4) scale(1 1.131)" x="604.5 608.9 613.3 617.7 605.5 609.9 614.3 618.7 606.5 610.9 615.3 619.6 607.5 611.9 616.2 620.6 608.4 612.8 617.2 621.6 609.4 613.8 618.2 622.6 610.4 614.8 619.2 623.6 611.4 615.8 620.2 624.6 612.4 616.8 621.2 625.6 613.4 617.8 622.2 626.6 614.4 618.8 623.2 627.6 615.4 619.8 624.2 628.5 616.4 620.8 625.1 629.5 617.3 621.7 626.1 630.5 618.3 622.7 627.1 631.5 619.3 623.7 628.1 632.5 620.3 624.7 629.1 633.5 621.3 625.7 630.1 634.5 622.3 626.7 631.1 635.5 623.3 627.7 632.1 636.5" fill="#323232">20002001200220032004200520062007200820092010201120122013201420152016201720182019</text>
<text font-size="7.90" transform="translate(0 203.4) scale(1 1.131)" x="625.1 629.5 633.9 638.2 626.1 630.4 634.8 639.2 627.0 631.4 635.8 640.2 628.0 632.4 636.8 641.2 629.0 633.4 637.8 642.2 630.0 634.4 638.8 643.2 631.0 635.4 639.8 644.2 632.0 636.4 640.8 645.2 633.0 637.4 641.8 646.2 634.0 638.4 642.7 647.1 635.0 639.3 643.7 648.1 635.9 640.3 644.7 649.1 636.9 641.3 645.7 650.1 637.9 642.3 646.7 651.1 638.9 643.3 647.7 652.1 639.9 644.3 648.7 653.1 640.9 645.3 649.7 654.1 641.9 646.3 650.7 655.0 642.9 647.3 651.6 656.0 643.8 648.2 652.6 657.0" fill="#323232">20002001200220032004200520062007200820092010201120122013201420152016201720182019</text>
<text font-size="7.90" transform="translate(0 203.4) scale(1 1.131)" x="645.6 650.0 654.4 658.8 646.6 651.0 655.4 659.8 647.6 652.0 656.4 660.8 648.6 653.0 657.4 661.8 649.6 654.0 658.4 662.8 650.6 655.0 659.4 663.8 651.6 656.0 660.4 664.7 652.6 657.0 661.3 665.7 653.5 657.9 662.3 666.7 654.5 658.9 663.3 667.7 655.5 659.9 664.3 668.7 656.5 660.9 665.3 669.7 657.5 661.9 666.3 670.7 658.5 662.9 667.3 671.7 659.5 663.9 668.3 672.7 660.5 664.9 669.3 673.6 661.5 665.8 670.2 674.6 662.4 666.8 671.2 675.6 663.4 667.8 672.2 676.6 664.4 668.8 673.2 677.6" fill="#323232">20002001200220032004200520062007200820092010201120122013201420152016201720182019</text>
<text font-size="9.4" fill="#2a2a2a" text-anchor="middle" transform="translate(398.1 217.0) scale(1 0.98)">1</text>
<text font-size="9.4" fill="#2a2a2a" text-anchor="middle" transform="translate(418.7 217.0) scale(1 0.98)">2</text>
<text font-size="9.4" fill="#2a2a2a" text-anchor="middle" transform="translate(439.2 217.0) scale(1 0.98)">3</text>
<text font-size="9.4" fill="#2a2a2a" text-anchor="middle" transform="translate(459.8 217.0) scale(1 0.98)">4</text>
<text font-size="9.4" fill="#2a2a2a" text-anchor="middle" transform="translate(480.4 217.0) scale(1 0.98)">5</text>
<text font-size="9.4" fill="#2a2a2a" text-anchor="middle" transform="translate(500.9 217.0) scale(1 0.98)">6</text>
<text font-size="9.4" fill="#2a2a2a" text-anchor="middle" transform="translate(521.5 217.0) scale(1 0.98)">7</text>
<text font-size="9.4" fill="#2a2a2a" text-anchor="middle" transform="translate(542.1 217.0) scale(1 0.98)">8</text>
<text font-size="9.4" fill="#2a2a2a" text-anchor="middle" transform="translate(562.7 217.0) scale(1 0.98)">9</text>
<text font-size="9.4" fill="#2a2a2a" text-anchor="middle" transform="translate(583.2 217.0) scale(1 0.98)">10</text>
<text font-size="9.4" fill="#2a2a2a" text-anchor="middle" transform="translate(603.8 217.0) scale(1 0.98)">11</text>
<text font-size="9.4" fill="#2a2a2a" text-anchor="middle" transform="translate(624.4 217.0) scale(1 0.98)">12</text>
<text font-size="9.4" fill="#2a2a2a" text-anchor="middle" transform="translate(644.9 217.0) scale(1 0.98)">13</text>
<text font-size="9.4" fill="#2a2a2a" text-anchor="middle" transform="translate(665.5 217.0) scale(1 0.98)">14</text>
<text class="t" font-size="18.9" stroke="#000" stroke-width="0.5" transform="translate(373.8 244.6) scale(1 0.98)">EF</text>
<g fill="none" stroke-width="1" shape-rendering="crispEdges">
<path stroke="#5986b1" d="M43.5 442.2V353.4M45.5 442.2V359.3M48.5 442.2V351.9M51.5 442.2V350.8M54.5 442.2V348.4M56.5 442.2V343.0M58.5 442.2V334.5M61.5 442.2V328.3M64.5 442.2V378.3M66.5 442.2V384.4M69.5 442.2V379.4M70.5 442.2V378.8M72.5 442.2V379.0M75.5 442.2V377.7M78.5 442.2V365.7M81.5 442.2V363.2M85.5 442.2V380.0M88.5 442.2V382.5M91.5 442.2V378.6M93.5 442.2V376.8M96.5 442.2V375.6M97.5 442.2V375.4M99.5 442.2V372.9M102.5 442.2V375.9M105.5 442.2V376.4M108.5 442.2V381.7M110.5 442.2V381.5M112.5 442.2V379.5M115.5 442.2V378.3M118.5 442.2V374.5M120.5 442.2V381.4M123.5 442.2V378.9M126.5 442.2V404.6M129.5 442.2V403.9M132.5 442.2V402.0M135.5 442.2V400.5M137.5 442.2V396.2M139.5 442.2V394.9M142.5 442.2V395.4M145.5 442.2V410.5M147.5 442.2V408.5M150.5 442.2V407.8M151.5 442.2V407.6M153.5 442.2V404.7M156.5 442.2V395.4M159.5 442.2V386.7M162.5 442.2V398.0M166.5 442.2V347.6M169.5 442.2V327.9M172.5 442.2V322.8M174.5 442.2V327.2M176.5 442.2V314.3M177.5 442.2V321.6M178.5 442.2V314.7M180.5 442.2V287.4M183.5 442.2V287.0M184.5 442.2V273.4M186.5 442.2V403.4M189.5 442.2V410.9M191.5 442.2V406.1M193.5 442.2V403.9M196.5 442.2V402.2M199.5 442.2V400.6M201.5 442.2V399.4M204.5 442.2V396.8M207.5 442.2V292.8M208.5 442.2V282.2M210.5 442.2V297.2M213.5 442.2V288.1M216.5 442.2V286.3M218.5 442.2V282.7M220.5 442.2V276.1M223.5 442.2V280.4M225.5 442.2V266.6M228.5 442.2V359.1M231.5 442.2V361.1M232.5 442.2V357.6M234.5 442.2V353.2M237.5 442.2V331.6M240.5 442.2V316.5M241.5 442.2V306.5M243.5 442.2V317.0M245.5 442.2V312.0M247.5 442.2V371.2M250.5 442.2V376.7M253.5 442.2V370.1M255.5 442.2V370.8M258.5 442.2V373.9M259.5 442.2V366.9M261.5 442.2V360.8M264.5 442.2V365.8M270.5 442.2V404.1M272.5 442.2V400.2M274.5 442.2V393.5M277.5 442.2V388.7M280.5 442.2V387.5M282.5 442.2V377.4M285.5 442.2V389.4M286.5 442.2V386.6M288.5 442.2V408.6M291.5 442.2V412.3M294.5 442.2V407.1M297.5 442.2V405.6M299.5 442.2V403.9M301.5 442.2V403.5M304.5 442.2V393.9M306.5 442.2V393.2M309.5 442.2V369.9M312.5 442.2V371.3M313.5 442.2V371.6M315.5 442.2V372.5M318.5 442.2V373.8M321.5 442.2V377.1M324.5 442.2V360.5M326.5 442.2V363.2"/>
<path stroke="#608cb6" d="M44.5 442.2V352.0M47.5 442.2V352.5M50.5 442.2V350.6M52.5 442.2V350.1M55.5 442.2V346.6M59.5 442.2V339.0M68.5 442.2V380.7M71.5 442.2V378.6M74.5 442.2V377.9M77.5 442.2V365.4M79.5 442.2V366.8M82.5 442.2V363.2M86.5 442.2V385.1M89.5 442.2V380.0M90.5 442.2V378.8M95.5 442.2V375.8M98.5 442.2V375.9M101.5 442.2V380.7M104.5 442.2V376.0M106.5 442.2V378.9M109.5 442.2V381.4M113.5 442.2V381.6M116.5 442.2V378.3M117.5 442.2V374.3M122.5 442.2V378.9M125.5 442.2V404.8M128.5 442.2V407.1M131.5 442.2V402.1M133.5 442.2V401.5M136.5 442.2V399.7M140.5 442.2V393.3M143.5 442.2V392.9M149.5 442.2V409.2M152.5 442.2V407.2M155.5 442.2V395.4M158.5 442.2V385.1M160.5 442.2V388.1M163.5 442.2V391.7M167.5 442.2V347.6M170.5 442.2V327.4M171.5 442.2V325.1M179.5 442.2V314.4M182.5 442.2V287.0M187.5 442.2V404.4M190.5 442.2V408.0M194.5 442.2V403.5M197.5 442.2V402.1M198.5 442.2V401.8M203.5 442.2V399.7M206.5 442.2V292.8M209.5 442.2V297.2M212.5 442.2V288.3M214.5 442.2V285.5M217.5 442.2V283.0M221.5 442.2V270.4M224.5 442.2V280.4M230.5 442.2V365.6M233.5 442.2V353.2M236.5 442.2V331.6M239.5 442.2V330.6M244.5 442.2V320.4M248.5 442.2V370.5M251.5 442.2V372.5M252.5 442.2V370.7M257.5 442.2V373.9M260.5 442.2V366.9M263.5 442.2V364.5M266.5 442.2V369.5M268.5 442.2V401.3M271.5 442.2V403.7M275.5 442.2V391.5M278.5 442.2V388.4M279.5 442.2V388.0M284.5 442.2V387.8M290.5 442.2V411.1M293.5 442.2V408.3M295.5 442.2V406.3M298.5 442.2V403.8M302.5 442.2V393.9M305.5 442.2V399.2M311.5 442.2V371.5M314.5 442.2V372.0M317.5 442.2V373.3M320.5 442.2V376.9M322.5 442.2V373.1M325.5 442.2V363.2"/>
<path stroke="#6a94bc" d="M46.5 442.2V359.3M53.5 442.2V349.3M60.5 442.2V340.5M65.5 442.2V377.9M73.5 442.2V378.8M80.5 442.2V367.6M87.5 442.2V385.1M92.5 442.2V378.3M100.5 442.2V380.3M107.5 442.2V384.4M114.5 442.2V381.8M119.5 442.2V378.1M127.5 442.2V407.8M134.5 442.2V401.0M141.5 442.2V393.5M146.5 442.2V409.0M154.5 442.2V402.8M161.5 442.2V389.1M168.5 442.2V336.5M173.5 442.2V322.8M181.5 442.2V312.3M188.5 442.2V410.7M195.5 442.2V402.8M200.5 442.2V399.7M215.5 442.2V285.2M222.5 442.2V270.2M227.5 442.2V362.2M235.5 442.2V329.1M242.5 442.2V316.7M249.5 442.2V376.4M254.5 442.2V370.1M262.5 442.2V361.0M269.5 442.2V400.4M276.5 442.2V389.9M281.5 442.2V381.3M289.5 442.2V408.9M296.5 442.2V406.0M303.5 442.2V393.9M316.5 442.2V372.9M323.5 442.2V365.4"/>
<path stroke="#7ba1c5" d="M49.5 442.2V350.9M57.5 442.2V333.7M67.5 442.2V382.7M76.5 442.2V374.1M84.5 442.2V379.8M94.5 442.2V375.9M111.5 442.2V381.5M121.5 442.2V384.3M130.5 442.2V402.2M138.5 442.2V395.5M148.5 442.2V413.4M157.5 442.2V402.2M165.5 442.2V347.6M175.5 442.2V327.2M192.5 442.2V404.6M202.5 442.2V399.4M211.5 442.2V288.5M219.5 442.2V276.3M229.5 442.2V365.6M238.5 442.2V329.8M256.5 442.2V369.8M265.5 442.2V368.4M273.5 442.2V397.4M283.5 442.2V380.0M292.5 442.2V410.8M300.5 442.2V403.9M310.5 442.2V370.3M319.5 442.2V372.4M327.5 442.2V360.0"/>
<path stroke="#dfe8f1" d="M83.5 442.2V379.8M103.5 442.2V376.0M124.5 442.2V404.8M144.5 442.2V410.5M164.5 442.2V391.7M185.5 442.2V403.4M205.5 442.2V396.8M226.5 442.2V362.2M246.5 442.2V371.2M267.5 442.2V401.3M287.5 442.2V408.6"/>
</g>
<path d="M34.0 442.6H336.0" fill="none" stroke="#4a4a4a" stroke-width="1"/>
<path d="M34.5 258.2V443.1" fill="none" stroke="#444" stroke-width="1.0"/>
<path d="M30.9 442.5H34.5" stroke="#4a4a4a" stroke-width="1"/>
<text font-size="8.4" fill="#666" text-anchor="middle" transform="translate(28.1 442.5) rotate(-90) scale(1 1.07)">0</text>
<path d="M30.9 408.3H34.5" stroke="#4a4a4a" stroke-width="1"/>
<text font-size="8.4" fill="#666" text-anchor="middle" transform="translate(28.1 408.3) rotate(-90) scale(1 1.07)">.1</text>
<path d="M30.9 374.1H34.5" stroke="#4a4a4a" stroke-width="1"/>
<text font-size="8.4" fill="#666" text-anchor="middle" transform="translate(28.1 374.1) rotate(-90) scale(1 1.07)">.2</text>
<path d="M30.9 339.9H34.5" stroke="#4a4a4a" stroke-width="1"/>
<text font-size="8.4" fill="#666" text-anchor="middle" transform="translate(28.1 339.9) rotate(-90) scale(1 1.07)">.3</text>
<path d="M30.9 305.7H34.5" stroke="#4a4a4a" stroke-width="1"/>
<text font-size="8.4" fill="#666" text-anchor="middle" transform="translate(28.1 305.7) rotate(-90) scale(1 1.07)">.4</text>
<path d="M30.9 271.5H34.5" stroke="#4a4a4a" stroke-width="1"/>
<text font-size="8.4" fill="#666" text-anchor="middle" transform="translate(28.1 271.5) rotate(-90) scale(1 1.07)">.5</text>
<text font-size="6.4" fill="#666" letter-spacing="0.6" text-anchor="middle" transform="translate(17.7 350.4) rotate(-90) scale(1 1.12)">mean of gvcp</text>
<text font-size="7.90" transform="translate(0 452.8) scale(1 0.972)" x="34.2 38.6 43.0 47.4 35.2 39.6 44.0 48.4 36.2 40.6 44.9 49.3 37.1 41.5 45.9 50.3 38.1 42.5 46.9 51.3 39.1 43.5 47.9 52.3 40.1 44.5 48.9 53.2 41.0 45.4 49.8 54.2 42.0 46.4 50.8 55.2 43.0 47.4 51.8 56.2 44.0 48.4 52.8 57.2 45.0 49.4 53.7 58.1 45.9 50.3 54.7 59.1 46.9 51.3 55.7 60.1 47.9 52.3 56.7 61.1 48.9 53.3 57.7 62.0 49.8 54.2 58.6 63.0 50.8 55.2 59.6 64.0 51.8 56.2 60.6 65.0 52.8 57.2 61.6 66.0" fill="#444">20002001200220032004200520062007200820092010201120122013201420152016201720182019</text>
<text font-size="7.90" transform="translate(0 452.8) scale(1 0.972)" x="54.6 59.0 63.3 67.7 55.5 59.9 64.3 68.7 56.5 60.9 65.3 69.7 57.5 61.9 66.3 70.7 58.5 62.9 67.3 71.6 59.5 63.8 68.2 72.6 60.4 64.8 69.2 73.6 61.4 65.8 70.2 74.6 62.4 66.8 71.2 75.6 63.4 67.8 72.1 76.5 64.3 68.7 73.1 77.5 65.3 69.7 74.1 78.5 66.3 70.7 75.1 79.5 67.3 71.7 76.1 80.5 68.3 72.6 77.0 81.4 69.2 73.6 78.0 82.4 70.2 74.6 79.0 83.4 71.2 75.6 80.0 84.4 72.2 76.6 80.9 85.3 73.1 77.5 81.9 86.3" fill="#444">20002001200220032004200520062007200820092010201120122013201420152016201720182019</text>
<text font-size="7.90" transform="translate(0 452.8) scale(1 0.972)" x="74.9 79.3 83.7 88.1 75.9 80.3 84.7 89.1 76.9 81.3 85.7 90.1 77.9 82.2 86.6 91.0 78.8 83.2 87.6 92.0 79.8 84.2 88.6 93.0 80.8 85.2 89.6 94.0 81.8 86.2 90.5 94.9 82.7 87.1 91.5 95.9 83.7 88.1 92.5 96.9 84.7 89.1 93.5 97.9 85.7 90.1 94.5 98.9 86.7 91.0 95.4 99.8 87.6 92.0 96.4 100.8 88.6 93.0 97.4 101.8 89.6 94.0 98.4 102.8 90.6 95.0 99.3 103.7 91.5 95.9 100.3 104.7 92.5 96.9 101.3 105.7 93.5 97.9 102.3 106.7" fill="#444">20002001200220032004200520062007200820092010201120122013201420152016201720182019</text>
<text font-size="7.90" transform="translate(0 452.8) scale(1 0.972)" x="95.3 99.7 104.1 108.5 96.3 100.6 105.0 109.4 97.2 101.6 106.0 110.4 98.2 102.6 107.0 111.4 99.2 103.6 108.0 112.4 100.2 104.6 108.9 113.3 101.1 105.5 109.9 114.3 102.1 106.5 110.9 115.3 103.1 107.5 111.9 116.3 104.1 108.5 112.9 117.3 105.1 109.4 113.8 118.2 106.0 110.4 114.8 119.2 107.0 111.4 115.8 120.2 108.0 112.4 116.8 121.2 109.0 113.4 117.8 122.1 109.9 114.3 118.7 123.1 110.9 115.3 119.7 124.1 111.9 116.3 120.7 125.1 112.9 117.3 121.7 126.1 113.9 118.2 122.6 127.0" fill="#444">20002001200220032004200520062007200820092010201120122013201420152016201720182019</text>
<text font-size="7.90" transform="translate(0 452.8) scale(1 0.972)" x="115.6 120.0 124.4 128.8 116.6 121.0 125.4 129.8 117.6 122.0 126.4 130.8 118.6 123.0 127.4 131.7 119.5 123.9 128.3 132.7 120.5 124.9 129.3 133.7 121.5 125.9 130.3 134.7 122.5 126.9 131.3 135.7 123.5 127.8 132.2 136.6 124.4 128.8 133.2 137.6 125.4 129.8 134.2 138.6 126.4 130.8 135.2 139.6 127.4 131.8 136.2 140.5 128.3 132.7 137.1 141.5 129.3 133.7 138.1 142.5 130.3 134.7 139.1 143.5 131.3 135.7 140.1 144.5 132.3 136.6 141.0 145.4 133.2 137.6 142.0 146.4 134.2 138.6 143.0 147.4" fill="#444">20002001200220032004200520062007200820092010201120122013201420152016201720182019</text>
<text font-size="7.90" transform="translate(0 452.8) scale(1 0.972)" x="136.0 140.4 144.8 149.2 137.0 141.4 145.8 150.1 137.9 142.3 146.7 151.1 138.9 143.3 147.7 152.1 139.9 144.3 148.7 153.1 140.9 145.3 149.7 154.1 141.9 146.2 150.6 155.0 142.8 147.2 151.6 156.0 143.8 148.2 152.6 157.0 144.8 149.2 153.6 158.0 145.8 150.2 154.6 158.9 146.7 151.1 155.5 159.9 147.7 152.1 156.5 160.9 148.7 153.1 157.5 161.9 149.7 154.1 158.5 162.9 150.7 155.1 159.4 163.8 151.6 156.0 160.4 164.8 152.6 157.0 161.4 165.8 153.6 158.0 162.4 166.8 154.6 159.0 163.4 167.7" fill="#444">20002001200220032004200520062007200820092010201120122013201420152016201720182019</text>
<text font-size="7.90" transform="translate(0 452.8) scale(1 0.972)" x="156.3 160.7 165.1 169.5 157.3 161.7 166.1 170.5 158.3 162.7 167.1 171.5 159.3 163.7 168.1 172.5 160.3 164.7 169.0 173.4 161.2 165.6 170.0 174.4 162.2 166.6 171.0 175.4 163.2 167.6 172.0 176.4 164.2 168.6 173.0 177.3 165.1 169.5 173.9 178.3 166.1 170.5 174.9 179.3 167.1 171.5 175.9 180.3 168.1 172.5 176.9 181.3 169.1 173.5 177.8 182.2 170.0 174.4 178.8 183.2 171.0 175.4 179.8 184.2 172.0 176.4 180.8 185.2 173.0 177.4 181.8 186.1 173.9 178.3 182.7 187.1 174.9 179.3 183.7 188.1" fill="#444">20002001200220032004200520062007200820092010201120122013201420152016201720182019</text>
<text font-size="7.90" transform="translate(0 452.8) scale(1 0.972)" x="176.7 181.1 185.5 189.9 177.7 182.1 186.5 190.9 178.7 183.1 187.4 191.8 179.6 184.0 188.4 192.8 180.6 185.0 189.4 193.8 181.6 186.0 190.4 194.8 182.6 187.0 191.4 195.7 183.5 187.9 192.3 196.7 184.5 188.9 193.3 197.7 185.5 189.9 194.3 198.7 186.5 190.9 195.3 199.7 187.5 191.9 196.2 200.6 188.4 192.8 197.2 201.6 189.4 193.8 198.2 202.6 190.4 194.8 199.2 203.6 191.4 195.8 200.2 204.5 192.3 196.7 201.1 205.5 193.3 197.7 202.1 206.5 194.3 198.7 203.1 207.5 195.3 199.7 204.1 208.5" fill="#444">20002001200220032004200520062007200820092010201120122013201420152016201720182019</text>
<text font-size="7.90" transform="translate(0 452.8) scale(1 0.972)" x="197.1 201.5 205.8 210.2 198.0 202.4 206.8 211.2 199.0 203.4 207.8 212.2 200.0 204.4 208.8 213.2 201.0 205.4 209.8 214.1 202.0 206.3 210.7 215.1 202.9 207.3 211.7 216.1 203.9 208.3 212.7 217.1 204.9 209.3 213.7 218.1 205.9 210.3 214.6 219.0 206.8 211.2 215.6 220.0 207.8 212.2 216.6 221.0 208.8 213.2 217.6 222.0 209.8 214.2 218.6 223.0 210.8 215.1 219.5 223.9 211.7 216.1 220.5 224.9 212.7 217.1 221.5 225.9 213.7 218.1 222.5 226.9 214.7 219.1 223.4 227.8 215.6 220.0 224.4 228.8" fill="#444">20002001200220032004200520062007200820092010201120122013201420152016201720182019</text>
<text font-size="7.90" transform="translate(0 452.8) scale(1 0.972)" x="217.4 221.8 226.2 230.6 218.4 222.8 227.2 231.6 219.4 223.8 228.2 232.6 220.4 224.7 229.1 233.5 221.3 225.7 230.1 234.5 222.3 226.7 231.1 235.5 223.3 227.7 232.1 236.5 224.3 228.7 233.0 237.4 225.2 229.6 234.0 238.4 226.2 230.6 235.0 239.4 227.2 231.6 236.0 240.4 228.2 232.6 237.0 241.4 229.2 233.5 237.9 242.3 230.1 234.5 238.9 243.3 231.1 235.5 239.9 244.3 232.1 236.5 240.9 245.3 233.1 237.5 241.8 246.2 234.0 238.4 242.8 247.2 235.0 239.4 243.8 248.2 236.0 240.4 244.8 249.2" fill="#444">20002001200220032004200520062007200820092010201120122013201420152016201720182019</text>
<text font-size="7.90" transform="translate(0 452.8) scale(1 0.972)" x="237.8 242.2 246.6 251.0 238.8 243.1 247.5 251.9 239.7 244.1 248.5 252.9 240.7 245.1 249.5 253.9 241.7 246.1 250.5 254.9 242.7 247.1 251.4 255.8 243.6 248.0 252.4 256.8 244.6 249.0 253.4 257.8 245.6 250.0 254.4 258.8 246.6 251.0 255.4 259.8 247.6 251.9 256.3 260.7 248.5 252.9 257.3 261.7 249.5 253.9 258.3 262.7 250.5 254.9 259.3 263.7 251.5 255.9 260.3 264.6 252.4 256.8 261.2 265.6 253.4 257.8 262.2 266.6 254.4 258.8 263.2 267.6 255.4 259.8 264.2 268.6 256.4 260.7 265.1 269.5" fill="#444">20002001200220032004200520062007200820092010201120122013201420152016201720182019</text>
<text font-size="7.90" transform="translate(0 452.8) scale(1 0.972)" x="258.1 262.5 266.9 271.3 259.1 263.5 267.9 272.3 260.1 264.5 268.9 273.3 261.1 265.5 269.9 274.2 262.0 266.4 270.8 275.2 263.0 267.4 271.8 276.2 264.0 268.4 272.8 277.2 265.0 269.4 273.8 278.2 266.0 270.3 274.7 279.1 266.9 271.3 275.7 280.1 267.9 272.3 276.7 281.1 268.9 273.3 277.7 282.1 269.9 274.3 278.7 283.0 270.8 275.2 279.6 284.0 271.8 276.2 280.6 285.0 272.8 277.2 281.6 286.0 273.8 278.2 282.6 287.0 274.8 279.1 283.5 287.9 275.7 280.1 284.5 288.9 276.7 281.1 285.5 289.9" fill="#444">20002001200220032004200520062007200820092010201120122013201420152016201720182019</text>
<text font-size="7.90" transform="translate(0 452.8) scale(1 0.972)" x="278.5 282.9 287.3 291.7 279.5 283.9 288.3 292.6 280.4 284.8 289.2 293.6 281.4 285.8 290.2 294.6 282.4 286.8 291.2 295.6 283.4 287.8 292.2 296.6 284.4 288.7 293.1 297.5 285.3 289.7 294.1 298.5 286.3 290.7 295.1 299.5 287.3 291.7 296.1 300.5 288.3 292.7 297.1 301.4 289.2 293.6 298.0 302.4 290.2 294.6 299.0 303.4 291.2 295.6 300.0 304.4 292.2 296.6 301.0 305.4 293.2 297.6 301.9 306.3 294.1 298.5 302.9 307.3 295.1 299.5 303.9 308.3 296.1 300.5 304.9 309.3 297.1 301.5 305.9 310.2" fill="#444">20002001200220032004200520062007200820092010201120122013201420152016201720182019</text>
<text font-size="7.90" transform="translate(0 452.8) scale(1 0.972)" x="298.8 303.2 307.6 312.0 299.8 304.2 308.6 313.0 300.8 305.2 309.6 314.0 301.8 306.2 310.6 315.0 302.8 307.2 311.5 315.9 303.7 308.1 312.5 316.9 304.7 309.1 313.5 317.9 305.7 310.1 314.5 318.9 306.7 311.1 315.5 319.8 307.6 312.0 316.4 320.8 308.6 313.0 317.4 321.8 309.6 314.0 318.4 322.8 310.6 315.0 319.4 323.8 311.6 316.0 320.3 324.7 312.5 316.9 321.3 325.7 313.5 317.9 322.3 326.7 314.5 318.9 323.3 327.7 315.5 319.9 324.3 328.6 316.4 320.8 325.2 329.6 317.4 321.8 326.2 330.6" fill="#444">20002001200220032004200520062007200820092010201120122013201420152016201720182019</text>
<text font-size="9.4" fill="#666" text-anchor="middle" transform="translate(53.2 466.8) scale(1 0.92)">1</text>
<text font-size="9.4" fill="#666" text-anchor="middle" transform="translate(73.5 466.8) scale(1 0.92)">2</text>
<text font-size="9.4" fill="#666" text-anchor="middle" transform="translate(93.9 466.8) scale(1 0.92)">3</text>
<text font-size="9.4" fill="#666" text-anchor="middle" transform="translate(114.2 466.8) scale(1 0.92)">4</text>
<text font-size="9.4" fill="#666" text-anchor="middle" transform="translate(134.6 466.8) scale(1 0.92)">5</text>
<text font-size="9.4" fill="#666" text-anchor="middle" transform="translate(155.0 466.8) scale(1 0.92)">6</text>
<text font-size="9.4" fill="#666" text-anchor="middle" transform="translate(175.3 466.8) scale(1 0.92)">7</text>
<text font-size="9.4" fill="#666" text-anchor="middle" transform="translate(195.7 466.8) scale(1 0.92)">8</text>
<text font-size="9.4" fill="#666" text-anchor="middle" transform="translate(216.0 466.8) scale(1 0.92)">9</text>
<text font-size="9.4" fill="#666" text-anchor="middle" transform="translate(236.4 466.8) scale(1 0.92)">10</text>
<text font-size="9.4" fill="#666" text-anchor="middle" transform="translate(256.8 466.8) scale(1 0.92)">11</text>
<text font-size="9.4" fill="#666" text-anchor="middle" transform="translate(277.1 466.8) scale(1 0.92)">12</text>
<text font-size="9.4" fill="#666" text-anchor="middle" transform="translate(297.5 466.8) scale(1 0.92)">13</text>
<text font-size="9.4" fill="#666" text-anchor="middle" transform="translate(317.8 466.8) scale(1 0.92)">14</text>
<text class="t" font-size="18.6" stroke="#000" stroke-width="0.0" transform="translate(0.3 494.8) scale(1 1.06)">GVCP</text>
<g fill="none" stroke-width="1" shape-rendering="crispEdges">
<path stroke="#668aae" d="M389.5 442.7V426.6M393.5 442.7V422.4M397.5 442.7V424.3M401.5 442.7V419.7M404.5 442.7V425.3M409.5 442.7V420.1M413.5 442.7V411.6M415.5 442.7V408.1M420.5 442.7V410.0M424.5 442.7V400.2M427.5 442.7V397.3M430.5 442.7V421.3M434.5 442.7V418.7M438.5 442.7V423.1M442.5 442.7V425.8M445.5 442.7V428.5M450.5 442.7V424.9M454.5 442.7V416.1M456.5 442.7V411.0M461.5 442.7V421.6M465.5 442.7V420.2M468.5 442.7V420.2M471.5 442.7V340.8M475.5 442.7V312.7M479.5 442.7V291.2M483.5 442.7V320.4M485.5 442.7V302.1M486.5 442.7V313.1M491.5 442.7V440.5M495.5 442.7V441.1M497.5 442.7V441.1M502.5 442.7V441.3M506.5 442.7V441.1M509.5 442.7V441.3M512.5 442.7V438.6M516.5 442.7V439.0M520.5 442.7V439.6M524.5 442.7V437.8M527.5 442.7V438.7M532.5 442.7V399.3M536.5 442.7V397.2M538.5 442.7V395.7M543.5 442.7V396.2M547.5 442.7V396.3M550.5 442.7V389.1M557.5 442.7V441.7M561.5 442.7V441.8M565.5 442.7V441.9M568.5 442.7V441.7M573.5 442.7V404.7M577.5 442.7V399.3M579.5 442.7V391.4M584.5 442.7V390.5M588.5 442.7V393.9M591.5 442.7V396.1M594.5 442.7V424.2M598.5 442.7V413.9M602.5 442.7V422.0M606.5 442.7V419.2M609.5 442.7V414.7M614.5 442.7V440.2M618.5 442.7V439.6M620.5 442.7V441.1M625.5 442.7V439.3M629.5 442.7V440.8M632.5 442.7V439.2M635.5 442.7V417.9M639.5 442.7V406.5M643.5 442.7V409.4M647.5 442.7V416.8M650.5 442.7V415.4M655.5 442.7V408.2M659.5 442.7V396.8M661.5 442.7V388.1M666.5 442.7V394.6M670.5 442.7V387.0M673.5 442.7V399.7"/>
<path stroke="#7b9ab7" d="M391.5 442.7V424.6M395.5 442.7V425.2M400.5 442.7V425.0M402.5 442.7V423.1M406.5 442.7V423.1M412.5 442.7V416.2M417.5 442.7V415.4M421.5 442.7V403.4M426.5 442.7V397.3M432.5 442.7V419.1M436.5 442.7V418.0M441.5 442.7V425.8M443.5 442.7V426.6M447.5 442.7V427.5M453.5 442.7V422.1M458.5 442.7V414.5M462.5 442.7V417.3M467.5 442.7V420.2M473.5 442.7V318.2M477.5 442.7V288.2M482.5 442.7V320.4M484.5 442.7V317.9M488.5 442.7V302.4M494.5 442.7V441.3M499.5 442.7V441.1M503.5 442.7V441.3M508.5 442.7V441.2M514.5 442.7V439.2M518.5 442.7V438.1M523.5 442.7V437.8M525.5 442.7V439.9M529.5 442.7V437.3M535.5 442.7V396.1M540.5 442.7V392.0M544.5 442.7V392.9M549.5 442.7V389.1M555.5 442.7V441.9M559.5 442.7V441.4M564.5 442.7V441.9M566.5 442.7V441.8M570.5 442.7V440.8M576.5 442.7V395.4M581.5 442.7V393.2M585.5 442.7V392.9M590.5 442.7V396.1M596.5 442.7V420.9M600.5 442.7V416.7M605.5 442.7V418.0M607.5 442.7V416.2M611.5 442.7V409.2M617.5 442.7V440.0M622.5 442.7V441.5M626.5 442.7V439.3M631.5 442.7V439.2M637.5 442.7V407.4M641.5 442.7V410.1M646.5 442.7V416.8M648.5 442.7V414.3M652.5 442.7V413.9M658.5 442.7V401.2M663.5 442.7V391.4M667.5 442.7V389.5M672.5 442.7V399.7"/>
<path stroke="#8aa7c1" d="M390.5 442.7V425.6M396.5 442.7V425.0M398.5 442.7V422.2M405.5 442.7V425.5M411.5 442.7V416.2M414.5 442.7V408.1M418.5 442.7V412.6M423.5 442.7V400.2M428.5 442.7V397.3M431.5 442.7V420.1M437.5 442.7V418.3M439.5 442.7V423.1M446.5 442.7V428.2M452.5 442.7V422.3M455.5 442.7V415.8M459.5 442.7V416.5M464.5 442.7V417.3M469.5 442.7V420.2M472.5 442.7V329.4M478.5 442.7V288.2M480.5 442.7V290.0M487.5 442.7V313.1M493.5 442.7V441.5M496.5 442.7V441.1M500.5 442.7V441.1M505.5 442.7V441.2M510.5 442.7V441.3M513.5 442.7V437.0M519.5 442.7V438.1M521.5 442.7V439.6M528.5 442.7V438.7M534.5 442.7V404.1M537.5 442.7V396.9M541.5 442.7V399.3M546.5 442.7V398.0M551.5 442.7V389.1M554.5 442.7V442.0M560.5 442.7V441.7M562.5 442.7V441.8M569.5 442.7V441.7M575.5 442.7V401.2M578.5 442.7V391.4M582.5 442.7V393.5M587.5 442.7V393.9M592.5 442.7V396.1M595.5 442.7V421.6M601.5 442.7V421.8M603.5 442.7V419.9M610.5 442.7V409.2M616.5 442.7V440.2M619.5 442.7V441.1M623.5 442.7V441.6M628.5 442.7V440.8M636.5 442.7V417.8M642.5 442.7V409.2M644.5 442.7V409.5M651.5 442.7V413.9M657.5 442.7V409.2M660.5 442.7V400.2M664.5 442.7V387.3M669.5 442.7V387.0"/>
<path stroke="#a1b9cd" d="M392.5 442.7V423.2M394.5 442.7V425.0M399.5 442.7V425.0M403.5 442.7V422.4M407.5 442.7V423.1M410.5 442.7V419.8M416.5 442.7V415.2M419.5 442.7V411.7M422.5 442.7V405.1M425.5 442.7V404.6M433.5 442.7V418.7M435.5 442.7V415.5M440.5 442.7V426.3M444.5 442.7V426.9M448.5 442.7V427.5M451.5 442.7V424.3M457.5 442.7V411.0M460.5 442.7V416.8M463.5 442.7V417.3M466.5 442.7V418.0M474.5 442.7V317.9M476.5 442.7V293.2M481.5 442.7V298.5M489.5 442.7V302.4M492.5 442.7V440.6M498.5 442.7V441.1M501.5 442.7V441.2M504.5 442.7V441.3M507.5 442.7V441.1M515.5 442.7V439.2M517.5 442.7V438.1M522.5 442.7V437.8M526.5 442.7V438.7M530.5 442.7V437.3M533.5 442.7V399.3M539.5 442.7V394.7M542.5 442.7V399.3M545.5 442.7V398.3M548.5 442.7V395.0M556.5 442.7V441.8M558.5 442.7V440.9M563.5 442.7V441.9M567.5 442.7V441.8M571.5 442.7V440.8M574.5 442.7V401.2M580.5 442.7V397.3M583.5 442.7V390.5M586.5 442.7V400.8M589.5 442.7V400.2M597.5 442.7V414.3M599.5 442.7V413.3M604.5 442.7V418.0M608.5 442.7V415.7M612.5 442.7V409.2M615.5 442.7V440.2M621.5 442.7V441.1M624.5 442.7V439.3M627.5 442.7V440.8M630.5 442.7V439.7M638.5 442.7V407.0M640.5 442.7V407.5M645.5 442.7V413.4M649.5 442.7V414.3M653.5 442.7V413.9M656.5 442.7V408.5M662.5 442.7V388.1M665.5 442.7V394.6M668.5 442.7V392.4M671.5 442.7V392.4"/>
<path stroke="#dbe5ee" d="M408.5 442.7V423.1M429.5 442.7V421.3M449.5 442.7V427.5M470.5 442.7V420.2M490.5 442.7V440.5M511.5 442.7V441.3M531.5 442.7V437.3M572.5 442.7V440.8M593.5 442.7V424.2M613.5 442.7V440.2M654.5 442.7V413.9"/>
</g>
<path d="M379.9 443.0H683.0" fill="none" stroke="#a0a0a0" stroke-width="1"/>
<path d="M380.4 257.0V443.5" fill="none" stroke="#666" stroke-width="1.0"/>
<path d="M376.8 442.9H380.4" stroke="#a0a0a0" stroke-width="1"/>
<text font-size="7.6" fill="#2a2a2a" text-anchor="middle" transform="translate(374.0 442.9) rotate(-90) scale(1 1.15)">0</text>
<path d="M376.8 383.5H380.4" stroke="#a0a0a0" stroke-width="1"/>
<text font-size="7.6" fill="#2a2a2a" text-anchor="middle" transform="translate(374.0 383.5) rotate(-90) scale(1 1.15)">500</text>
<path d="M376.8 324.2H380.4" stroke="#a0a0a0" stroke-width="1"/>
<text font-size="7.6" fill="#2a2a2a" text-anchor="middle" transform="translate(374.0 324.2) rotate(-90) scale(1 1.15)">1,000</text>
<path d="M376.8 264.8H380.4" stroke="#a0a0a0" stroke-width="1"/>
<text font-size="7.6" fill="#2a2a2a" text-anchor="middle" transform="translate(374.0 264.8) rotate(-90) scale(1 1.15)">1,500</text>
<text font-size="7.6" fill="#2a2a2a" letter-spacing="0.0" text-anchor="middle" transform="translate(363.6 350.0) rotate(-90) scale(1 1.15)">mean of tei</text>
<text font-size="7.90" transform="translate(0 453.7) scale(1 1.114)" x="380.2 384.6 389.0 393.4 381.2 385.6 390.0 394.4 382.2 386.6 390.9 395.3 383.1 387.5 391.9 396.3 384.1 388.5 392.9 397.3 385.1 389.5 393.9 398.3 386.1 390.5 394.9 399.2 387.0 391.4 395.8 400.2 388.0 392.4 396.8 401.2 389.0 393.4 397.8 402.2 390.0 394.4 398.8 403.2 391.0 395.4 399.7 404.1 391.9 396.3 400.7 405.1 392.9 397.3 401.7 406.1 393.9 398.3 402.7 407.1 394.9 399.3 403.7 408.0 395.8 400.2 404.6 409.0 396.8 401.2 405.6 410.0 397.8 402.2 406.6 411.0 398.8 403.2 407.6 412.0" fill="#323232">20002001200220032004200520062007200820092010201120122013201420152016201720182019</text>
<text font-size="7.90" transform="translate(0 453.7) scale(1 1.114)" x="400.6 405.0 409.3 413.7 401.5 405.9 410.3 414.7 402.5 406.9 411.3 415.7 403.5 407.9 412.3 416.7 404.5 408.9 413.3 417.6 405.5 409.8 414.2 418.6 406.4 410.8 415.2 419.6 407.4 411.8 416.2 420.6 408.4 412.8 417.2 421.6 409.4 413.8 418.1 422.5 410.3 414.7 419.1 423.5 411.3 415.7 420.1 424.5 412.3 416.7 421.1 425.5 413.3 417.7 422.1 426.5 414.3 418.6 423.0 427.4 415.2 419.6 424.0 428.4 416.2 420.6 425.0 429.4 417.2 421.6 426.0 430.4 418.2 422.6 426.9 431.3 419.1 423.5 427.9 432.3" fill="#323232">20002001200220032004200520062007200820092010201120122013201420152016201720182019</text>
<text font-size="7.90" transform="translate(0 453.7) scale(1 1.114)" x="420.9 425.3 429.7 434.1 421.9 426.3 430.7 435.1 422.9 427.3 431.7 436.1 423.9 428.2 432.6 437.0 424.8 429.2 433.6 438.0 425.8 430.2 434.6 439.0 426.8 431.2 435.6 440.0 427.8 432.2 436.5 440.9 428.7 433.1 437.5 441.9 429.7 434.1 438.5 442.9 430.7 435.1 439.5 443.9 431.7 436.1 440.5 444.9 432.7 437.0 441.4 445.8 433.6 438.0 442.4 446.8 434.6 439.0 443.4 447.8 435.6 440.0 444.4 448.8 436.6 441.0 445.3 449.7 437.5 441.9 446.3 450.7 438.5 442.9 447.3 451.7 439.5 443.9 448.3 452.7" fill="#323232">20002001200220032004200520062007200820092010201120122013201420152016201720182019</text>
<text font-size="7.90" transform="translate(0 453.7) scale(1 1.114)" x="441.3 445.7 450.1 454.5 442.3 446.6 451.0 455.4 443.2 447.6 452.0 456.4 444.2 448.6 453.0 457.4 445.2 449.6 454.0 458.4 446.2 450.6 454.9 459.3 447.1 451.5 455.9 460.3 448.1 452.5 456.9 461.3 449.1 453.5 457.9 462.3 450.1 454.5 458.9 463.3 451.1 455.4 459.8 464.2 452.0 456.4 460.8 465.2 453.0 457.4 461.8 466.2 454.0 458.4 462.8 467.2 455.0 459.4 463.8 468.1 455.9 460.3 464.7 469.1 456.9 461.3 465.7 470.1 457.9 462.3 466.7 471.1 458.9 463.3 467.7 472.1 459.9 464.2 468.6 473.0" fill="#323232">20002001200220032004200520062007200820092010201120122013201420152016201720182019</text>
<text font-size="7.90" transform="translate(0 453.7) scale(1 1.114)" x="461.6 466.0 470.4 474.8 462.6 467.0 471.4 475.8 463.6 468.0 472.4 476.8 464.6 469.0 473.4 477.7 465.5 469.9 474.3 478.7 466.5 470.9 475.3 479.7 467.5 471.9 476.3 480.7 468.5 472.9 477.3 481.7 469.5 473.8 478.2 482.6 470.4 474.8 479.2 483.6 471.4 475.8 480.2 484.6 472.4 476.8 481.2 485.6 473.4 477.8 482.2 486.5 474.3 478.7 483.1 487.5 475.3 479.7 484.1 488.5 476.3 480.7 485.1 489.5 477.3 481.7 486.1 490.5 478.3 482.6 487.0 491.4 479.2 483.6 488.0 492.4 480.2 484.6 489.0 493.4" fill="#323232">20002001200220032004200520062007200820092010201120122013201420152016201720182019</text>
<text font-size="7.90" transform="translate(0 453.7) scale(1 1.114)" x="482.0 486.4 490.8 495.2 483.0 487.4 491.8 496.1 483.9 488.3 492.7 497.1 484.9 489.3 493.7 498.1 485.9 490.3 494.7 499.1 486.9 491.3 495.7 500.1 487.9 492.2 496.6 501.0 488.8 493.2 497.6 502.0 489.8 494.2 498.6 503.0 490.8 495.2 499.6 504.0 491.8 496.2 500.6 504.9 492.7 497.1 501.5 505.9 493.7 498.1 502.5 506.9 494.7 499.1 503.5 507.9 495.7 500.1 504.5 508.9 496.7 501.1 505.4 509.8 497.6 502.0 506.4 510.8 498.6 503.0 507.4 511.8 499.6 504.0 508.4 512.8 500.6 505.0 509.4 513.7" fill="#323232">20002001200220032004200520062007200820092010201120122013201420152016201720182019</text>
<text font-size="7.90" transform="translate(0 453.7) scale(1 1.114)" x="502.3 506.7 511.1 515.5 503.3 507.7 512.1 516.5 504.3 508.7 513.1 517.5 505.3 509.7 514.1 518.5 506.3 510.7 515.0 519.4 507.2 511.6 516.0 520.4 508.2 512.6 517.0 521.4 509.2 513.6 518.0 522.4 510.2 514.6 519.0 523.3 511.1 515.5 519.9 524.3 512.1 516.5 520.9 525.3 513.1 517.5 521.9 526.3 514.1 518.5 522.9 527.3 515.1 519.5 523.8 528.2 516.0 520.4 524.8 529.2 517.0 521.4 525.8 530.2 518.0 522.4 526.8 531.2 519.0 523.4 527.8 532.1 519.9 524.3 528.7 533.1 520.9 525.3 529.7 534.1" fill="#323232">20002001200220032004200520062007200820092010201120122013201420152016201720182019</text>
<text font-size="7.90" transform="translate(0 453.7) scale(1 1.114)" x="522.7 527.1 531.5 535.9 523.7 528.1 532.5 536.9 524.7 529.1 533.4 537.8 525.6 530.0 534.4 538.8 526.6 531.0 535.4 539.8 527.6 532.0 536.4 540.8 528.6 533.0 537.4 541.7 529.5 533.9 538.3 542.7 530.5 534.9 539.3 543.7 531.5 535.9 540.3 544.7 532.5 536.9 541.3 545.7 533.5 537.9 542.2 546.6 534.4 538.8 543.2 547.6 535.4 539.8 544.2 548.6 536.4 540.8 545.2 549.6 537.4 541.8 546.2 550.5 538.3 542.7 547.1 551.5 539.3 543.7 548.1 552.5 540.3 544.7 549.1 553.5 541.3 545.7 550.1 554.5" fill="#323232">20002001200220032004200520062007200820092010201120122013201420152016201720182019</text>
<text font-size="7.90" transform="translate(0 453.7) scale(1 1.114)" x="543.1 547.5 551.8 556.2 544.0 548.4 552.8 557.2 545.0 549.4 553.8 558.2 546.0 550.4 554.8 559.2 547.0 551.4 555.8 560.1 548.0 552.3 556.7 561.1 548.9 553.3 557.7 562.1 549.9 554.3 558.7 563.1 550.9 555.3 559.7 564.1 551.9 556.3 560.6 565.0 552.8 557.2 561.6 566.0 553.8 558.2 562.6 567.0 554.8 559.2 563.6 568.0 555.8 560.2 564.6 569.0 556.8 561.1 565.5 569.9 557.7 562.1 566.5 570.9 558.7 563.1 567.5 571.9 559.7 564.1 568.5 572.9 560.7 565.1 569.4 573.8 561.6 566.0 570.4 574.8" fill="#323232">20002001200220032004200520062007200820092010201120122013201420152016201720182019</text>
<text font-size="7.90" transform="translate(0 453.7) scale(1 1.114)" x="563.4 567.8 572.2 576.6 564.4 568.8 573.2 577.6 565.4 569.8 574.2 578.6 566.4 570.7 575.1 579.5 567.3 571.7 576.1 580.5 568.3 572.7 577.1 581.5 569.3 573.7 578.1 582.5 570.3 574.7 579.0 583.4 571.2 575.6 580.0 584.4 572.2 576.6 581.0 585.4 573.2 577.6 582.0 586.4 574.2 578.6 583.0 587.4 575.2 579.5 583.9 588.3 576.1 580.5 584.9 589.3 577.1 581.5 585.9 590.3 578.1 582.5 586.9 591.3 579.1 583.5 587.8 592.2 580.0 584.4 588.8 593.2 581.0 585.4 589.8 594.2 582.0 586.4 590.8 595.2" fill="#323232">20002001200220032004200520062007200820092010201120122013201420152016201720182019</text>
<text font-size="7.90" transform="translate(0 453.7) scale(1 1.114)" x="583.8 588.2 592.6 597.0 584.8 589.1 593.5 597.9 585.7 590.1 594.5 598.9 586.7 591.1 595.5 599.9 587.7 592.1 596.5 600.9 588.7 593.1 597.4 601.8 589.6 594.0 598.4 602.8 590.6 595.0 599.4 603.8 591.6 596.0 600.4 604.8 592.6 597.0 601.4 605.8 593.6 597.9 602.3 606.7 594.5 598.9 603.3 607.7 595.5 599.9 604.3 608.7 596.5 600.9 605.3 609.7 597.5 601.9 606.3 610.6 598.4 602.8 607.2 611.6 599.4 603.8 608.2 612.6 600.4 604.8 609.2 613.6 601.4 605.8 610.2 614.6 602.4 606.7 611.1 615.5" fill="#323232">20002001200220032004200520062007200820092010201120122013201420152016201720182019</text>
<text font-size="7.90" transform="translate(0 453.7) scale(1 1.114)" x="604.1 608.5 612.9 617.3 605.1 609.5 613.9 618.3 606.1 610.5 614.9 619.3 607.1 611.5 615.9 620.2 608.0 612.4 616.8 621.2 609.0 613.4 617.8 622.2 610.0 614.4 618.8 623.2 611.0 615.4 619.8 624.2 612.0 616.3 620.7 625.1 612.9 617.3 621.7 626.1 613.9 618.3 622.7 627.1 614.9 619.3 623.7 628.1 615.9 620.3 624.7 629.0 616.8 621.2 625.6 630.0 617.8 622.2 626.6 631.0 618.8 623.2 627.6 632.0 619.8 624.2 628.6 633.0 620.8 625.1 629.5 633.9 621.7 626.1 630.5 634.9 622.7 627.1 631.5 635.9" fill="#323232">20002001200220032004200520062007200820092010201120122013201420152016201720182019</text>
<text font-size="7.90" transform="translate(0 453.7) scale(1 1.114)" x="624.5 628.9 633.3 637.7 625.5 629.9 634.3 638.6 626.4 630.8 635.2 639.6 627.4 631.8 636.2 640.6 628.4 632.8 637.2 641.6 629.4 633.8 638.2 642.6 630.4 634.7 639.1 643.5 631.3 635.7 640.1 644.5 632.3 636.7 641.1 645.5 633.3 637.7 642.1 646.5 634.3 638.7 643.1 647.4 635.2 639.6 644.0 648.4 636.2 640.6 645.0 649.4 637.2 641.6 646.0 650.4 638.2 642.6 647.0 651.4 639.2 643.6 647.9 652.3 640.1 644.5 648.9 653.3 641.1 645.5 649.9 654.3 642.1 646.5 650.9 655.3 643.1 647.5 651.9 656.2" fill="#323232">20002001200220032004200520062007200820092010201120122013201420152016201720182019</text>
<text font-size="7.90" transform="translate(0 453.7) scale(1 1.114)" x="644.8 649.2 653.6 658.0 645.8 650.2 654.6 659.0 646.8 651.2 655.6 660.0 647.8 652.2 656.6 661.0 648.8 653.2 657.5 661.9 649.7 654.1 658.5 662.9 650.7 655.1 659.5 663.9 651.7 656.1 660.5 664.9 652.7 657.1 661.5 665.8 653.6 658.0 662.4 666.8 654.6 659.0 663.4 667.8 655.6 660.0 664.4 668.8 656.6 661.0 665.4 669.8 657.6 662.0 666.3 670.7 658.5 662.9 667.3 671.7 659.5 663.9 668.3 672.7 660.5 664.9 669.3 673.7 661.5 665.9 670.3 674.6 662.4 666.8 671.2 675.6 663.4 667.8 672.2 676.6" fill="#323232">20002001200220032004200520062007200820092010201120122013201420152016201720182019</text>
<text font-size="9.4" fill="#2a2a2a" text-anchor="middle" transform="translate(399.3 467.3) scale(1 0.98)">1</text>
<text font-size="9.4" fill="#2a2a2a" text-anchor="middle" transform="translate(419.6 467.3) scale(1 0.98)">2</text>
<text font-size="9.4" fill="#2a2a2a" text-anchor="middle" transform="translate(440.0 467.3) scale(1 0.98)">3</text>
<text font-size="9.4" fill="#2a2a2a" text-anchor="middle" transform="translate(460.3 467.3) scale(1 0.98)">4</text>
<text font-size="9.4" fill="#2a2a2a" text-anchor="middle" transform="translate(480.7 467.3) scale(1 0.98)">5</text>
<text font-size="9.4" fill="#2a2a2a" text-anchor="middle" transform="translate(501.1 467.3) scale(1 0.98)">6</text>
<text font-size="9.4" fill="#2a2a2a" text-anchor="middle" transform="translate(521.4 467.3) scale(1 0.98)">7</text>
<text font-size="9.4" fill="#2a2a2a" text-anchor="middle" transform="translate(541.8 467.3) scale(1 0.98)">8</text>
<text font-size="9.4" fill="#2a2a2a" text-anchor="middle" transform="translate(562.1 467.3) scale(1 0.98)">9</text>
<text font-size="9.4" fill="#2a2a2a" text-anchor="middle" transform="translate(582.5 467.3) scale(1 0.98)">10</text>
<text font-size="9.4" fill="#2a2a2a" text-anchor="middle" transform="translate(602.9 467.3) scale(1 0.98)">11</text>
<text font-size="9.4" fill="#2a2a2a" text-anchor="middle" transform="translate(623.2 467.3) scale(1 0.98)">12</text>
<text font-size="9.4" fill="#2a2a2a" text-anchor="middle" transform="translate(643.6 467.3) scale(1 0.98)">13</text>
<text font-size="9.4" fill="#2a2a2a" text-anchor="middle" transform="translate(663.9 467.3) scale(1 0.98)">14</text>
<text class="t" font-size="18.5" stroke="#000" stroke-width="0.5" transform="translate(377.3 494.8) scale(1 1.00)">TEI</text>
<g fill="none" stroke-width="1" shape-rendering="crispEdges">
<path stroke="#668aae" d="M43.5 682.2V681.3M47.5 682.2V678.3M51.5 682.2V678.3M55.5 682.2V680.6M58.5 682.2V679.3M65.5 682.2V514.1M67.5 682.2V588.2M69.5 682.2V552.0M74.5 682.2V641.4M78.5 682.2V635.8M81.5 682.2V669.7M82.5 682.2V655.8M84.5 682.2V668.9M86.5 682.2V658.3M88.5 682.2V667.2M92.5 682.2V673.8M96.5 682.2V677.6M99.5 682.2V676.0M108.5 682.2V643.1M110.5 682.2V639.7M115.5 682.2V647.0M119.5 682.2V637.8M122.5 682.2V659.7M123.5 682.2V647.0M125.5 682.2V679.1M129.5 682.2V679.1M133.5 682.2V679.0M137.5 682.2V679.6M140.5 682.2V680.0M145.5 682.2V657.3M149.5 682.2V660.9M151.5 682.2V654.3M156.5 682.2V677.2M160.5 682.2V674.3M163.5 682.2V680.6M166.5 682.2V660.2M170.5 682.2V674.3M174.5 682.2V680.2M178.5 682.2V677.2M181.5 682.2V677.3M186.5 682.2V678.4M190.5 682.2V675.2M192.5 682.2V670.5M197.5 682.2V676.8M201.5 682.2V675.3M204.5 682.2V679.9M207.5 682.2V680.2M211.5 682.2V678.4M215.5 682.2V678.1M219.5 682.2V681.8M229.5 682.2V599.3M231.5 682.2V624.7M233.5 682.2V601.2M238.5 682.2V647.3M242.5 682.2V654.3M245.5 682.2V676.2M246.5 682.2V655.4M248.5 682.2V666.0M252.5 682.2V665.1M256.5 682.2V666.4M260.5 682.2V673.8M263.5 682.2V674.3M268.5 682.2V660.9M272.5 682.2V665.3M274.5 682.2V662.8M279.5 682.2V670.1M283.5 682.2V664.0M286.5 682.2V666.8M287.5 682.2V659.5M289.5 682.2V678.3M293.5 682.2V678.1M297.5 682.2V677.6M301.5 682.2V679.1M304.5 682.2V679.5M309.5 682.2V631.3M313.5 682.2V570.0M315.5 682.2V547.3M320.5 682.2V644.1M324.5 682.2V598.0M327.5 682.2V652.9M328.5 682.2V586.0"/>
<path stroke="#7b9ab7" d="M45.5 682.2V681.1M49.5 682.2V677.4M54.5 682.2V680.3M56.5 682.2V680.1M60.5 682.2V681.1M66.5 682.2V588.2M71.5 682.2V588.9M75.5 682.2V655.1M80.5 682.2V669.7M90.5 682.2V664.6M95.5 682.2V677.5M97.5 682.2V677.1M101.5 682.2V676.7M107.5 682.2V656.2M112.5 682.2V642.7M116.5 682.2V650.0M121.5 682.2V659.7M127.5 682.2V678.5M131.5 682.2V678.8M136.5 682.2V679.4M138.5 682.2V679.7M142.5 682.2V681.0M148.5 682.2V672.9M153.5 682.2V670.0M157.5 682.2V677.0M162.5 682.2V680.6M168.5 682.2V681.1M172.5 682.2V675.8M177.5 682.2V681.4M179.5 682.2V673.7M183.5 682.2V680.6M189.5 682.2V676.8M194.5 682.2V670.0M198.5 682.2V679.9M203.5 682.2V677.7M209.5 682.2V669.1M213.5 682.2V673.8M218.5 682.2V681.7M220.5 682.2V681.9M230.5 682.2V625.0M235.5 682.2V593.8M239.5 682.2V663.1M244.5 682.2V676.2M250.5 682.2V662.1M254.5 682.2V663.1M259.5 682.2V672.8M261.5 682.2V673.3M265.5 682.2V677.3M271.5 682.2V674.3M276.5 682.2V667.2M280.5 682.2V670.4M285.5 682.2V666.7M291.5 682.2V679.9M295.5 682.2V677.1M300.5 682.2V679.6M302.5 682.2V678.2M306.5 682.2V680.2M312.5 682.2V655.2M317.5 682.2V603.0M321.5 682.2V625.1M326.5 682.2V652.9"/>
<path stroke="#8aa7c1" d="M44.5 682.2V681.2M50.5 682.2V677.7M52.5 682.2V677.3M59.5 682.2V680.5M62.5 682.2V679.2M68.5 682.2V585.3M72.5 682.2V588.9M77.5 682.2V645.2M85.5 682.2V668.9M91.5 682.2V670.0M93.5 682.2V675.2M100.5 682.2V676.0M106.5 682.2V652.6M109.5 682.2V642.7M113.5 682.2V643.3M118.5 682.2V647.2M126.5 682.2V678.8M132.5 682.2V678.8M134.5 682.2V679.1M141.5 682.2V680.2M147.5 682.2V655.1M150.5 682.2V660.9M154.5 682.2V672.6M159.5 682.2V674.3M164.5 682.2V676.2M167.5 682.2V681.1M173.5 682.2V678.4M175.5 682.2V680.2M182.5 682.2V680.6M185.5 682.2V675.2M188.5 682.2V671.1M191.5 682.2V675.2M195.5 682.2V671.3M200.5 682.2V678.3M205.5 682.2V674.1M208.5 682.2V668.9M214.5 682.2V673.3M216.5 682.2V679.2M232.5 682.2V622.4M236.5 682.2V627.6M241.5 682.2V659.7M249.5 682.2V662.1M255.5 682.2V664.2M257.5 682.2V667.5M264.5 682.2V677.3M270.5 682.2V664.1M273.5 682.2V665.0M277.5 682.2V667.5M282.5 682.2V667.5M290.5 682.2V677.3M296.5 682.2V677.1M298.5 682.2V678.3M305.5 682.2V680.2M311.5 682.2V630.6M314.5 682.2V570.0M318.5 682.2V610.1M323.5 682.2V598.9"/>
<path stroke="#a1b9cd" d="M46.5 682.2V681.1M48.5 682.2V677.5M53.5 682.2V680.2M57.5 682.2V679.5M61.5 682.2V679.2M64.5 682.2V554.3M70.5 682.2V561.2M73.5 682.2V604.3M76.5 682.2V655.4M79.5 682.2V647.2M87.5 682.2V670.4M89.5 682.2V664.6M94.5 682.2V676.8M98.5 682.2V676.6M102.5 682.2V676.9M105.5 682.2V649.9M111.5 682.2V637.0M114.5 682.2V644.3M117.5 682.2V650.0M120.5 682.2V653.4M128.5 682.2V678.7M130.5 682.2V679.0M135.5 682.2V679.3M139.5 682.2V679.8M143.5 682.2V680.8M146.5 682.2V656.9M152.5 682.2V663.9M155.5 682.2V672.8M158.5 682.2V674.5M161.5 682.2V677.5M169.5 682.2V679.9M171.5 682.2V675.5M176.5 682.2V681.4M180.5 682.2V673.2M184.5 682.2V675.2M187.5 682.2V673.5M193.5 682.2V669.4M196.5 682.2V671.9M199.5 682.2V679.9M202.5 682.2V677.7M210.5 682.2V669.3M212.5 682.2V674.0M217.5 682.2V681.7M228.5 682.2V635.4M234.5 682.2V592.3M237.5 682.2V628.1M240.5 682.2V660.0M243.5 682.2V665.1M251.5 682.2V669.7M253.5 682.2V663.1M258.5 682.2V672.0M262.5 682.2V671.6M266.5 682.2V673.3M269.5 682.2V660.9M275.5 682.2V662.1M278.5 682.2V666.6M281.5 682.2V668.0M284.5 682.2V666.1M292.5 682.2V680.2M294.5 682.2V677.2M299.5 682.2V679.5M303.5 682.2V677.7M307.5 682.2V673.8M310.5 682.2V630.9M316.5 682.2V598.0M319.5 682.2V610.1M322.5 682.2V599.3M325.5 682.2V650.1"/>
<path stroke="#dbe5ee" d="M63.5 682.2V679.2M83.5 682.2V668.9M124.5 682.2V679.1M144.5 682.2V680.8M165.5 682.2V676.2M247.5 682.2V666.0M267.5 682.2V673.3M288.5 682.2V678.3M308.5 682.2V673.8"/>
</g>
<path d="M34.0 682.6H336.0" fill="none" stroke="#888" stroke-width="1"/>
<path d="M34.5 506.7V683.1" fill="none" stroke="#444" stroke-width="1.0"/>
<path d="M30.9 682.5H34.5" stroke="#888" stroke-width="1"/>
<text font-size="7.6" fill="#2a2a2a" text-anchor="middle" transform="translate(28.1 682.5) rotate(-90) scale(1 1.15)">0</text>
<path d="M30.9 642.6H34.5" stroke="#888" stroke-width="1"/>
<text font-size="7.6" fill="#2a2a2a" text-anchor="middle" transform="translate(28.1 642.6) rotate(-90) scale(1 1.15)">.5</text>
<path d="M30.9 602.7H34.5" stroke="#888" stroke-width="1"/>
<text font-size="7.6" fill="#2a2a2a" text-anchor="middle" transform="translate(28.1 602.7) rotate(-90) scale(1 1.15)">1</text>
<path d="M30.9 562.8H34.5" stroke="#888" stroke-width="1"/>
<text font-size="7.6" fill="#2a2a2a" text-anchor="middle" transform="translate(28.1 562.8) rotate(-90) scale(1 1.15)">1.5</text>
<path d="M30.9 522.9H34.5" stroke="#888" stroke-width="1"/>
<text font-size="7.6" fill="#2a2a2a" text-anchor="middle" transform="translate(28.1 522.9) rotate(-90) scale(1 1.15)">2</text>
<text font-size="7.7" fill="#2a2a2a" letter-spacing="0.0" text-anchor="middle" transform="translate(17.7 594.6) rotate(-90) scale(1 1.12)">mean of nrr</text>
<text font-size="7.90" transform="translate(0 692.8) scale(1 1.078)" x="34.2 38.6 43.0 47.4 35.2 39.6 44.0 48.4 36.2 40.6 45.0 49.3 37.2 41.5 45.9 50.3 38.1 42.5 46.9 51.3 39.1 43.5 47.9 52.3 40.1 44.5 48.9 53.3 41.1 45.5 49.9 54.3 42.1 46.4 50.8 55.2 43.0 47.4 51.8 56.2 44.0 48.4 52.8 57.2 45.0 49.4 53.8 58.2 46.0 50.4 54.8 59.2 47.0 51.4 55.7 60.1 47.9 52.3 56.7 61.1 48.9 53.3 57.7 62.1 49.9 54.3 58.7 63.1 50.9 55.3 59.7 64.1 51.9 56.3 60.7 65.0 52.9 57.2 61.6 66.0" fill="#323232">20002001200220032004200520062007200820092010201120122013201420152016201720182019</text>
<text font-size="7.90" transform="translate(0 692.8) scale(1 1.078)" x="54.6 59.0 63.4 67.8 55.6 60.0 64.4 68.8 56.6 61.0 65.4 69.8 57.6 62.0 66.4 70.8 58.6 63.0 67.3 71.7 59.5 63.9 68.3 72.7 60.5 64.9 69.3 73.7 61.5 65.9 70.3 74.7 62.5 66.9 71.3 75.7 63.5 67.9 72.3 76.6 64.4 68.8 73.2 77.6 65.4 69.8 74.2 78.6 66.4 70.8 75.2 79.6 67.4 71.8 76.2 80.6 68.4 72.8 77.2 81.6 69.4 73.7 78.1 82.5 70.3 74.7 79.1 83.5 71.3 75.7 80.1 84.5 72.3 76.7 81.1 85.5 73.3 77.7 82.1 86.5" fill="#323232">20002001200220032004200520062007200820092010201120122013201420152016201720182019</text>
<text font-size="7.90" transform="translate(0 692.8) scale(1 1.078)" x="75.1 79.5 83.8 88.2 76.0 80.4 84.8 89.2 77.0 81.4 85.8 90.2 78.0 82.4 86.8 91.2 79.0 83.4 87.8 92.2 80.0 84.4 88.8 93.1 81.0 85.3 89.7 94.1 81.9 86.3 90.7 95.1 82.9 87.3 91.7 96.1 83.9 88.3 92.7 97.1 84.9 89.3 93.7 98.1 85.9 90.3 94.6 99.0 86.8 91.2 95.6 100.0 87.8 92.2 96.6 101.0 88.8 93.2 97.6 102.0 89.8 94.2 98.6 103.0 90.8 95.2 99.6 103.9 91.7 96.1 100.5 104.9 92.7 97.1 101.5 105.9 93.7 98.1 102.5 106.9" fill="#323232">20002001200220032004200520062007200820092010201120122013201420152016201720182019</text>
<text font-size="7.90" transform="translate(0 692.8) scale(1 1.078)" x="95.5 99.9 104.3 108.7 96.5 100.9 105.3 109.7 97.5 101.8 106.2 110.6 98.4 102.8 107.2 111.6 99.4 103.8 108.2 112.6 100.4 104.8 109.2 113.6 101.4 105.8 110.2 114.6 102.4 106.8 111.1 115.5 103.3 107.7 112.1 116.5 104.3 108.7 113.1 117.5 105.3 109.7 114.1 118.5 106.3 110.7 115.1 119.5 107.3 111.7 116.1 120.4 108.3 112.6 117.0 121.4 109.2 113.6 118.0 122.4 110.2 114.6 119.0 123.4 111.2 115.6 120.0 124.4 112.2 116.6 121.0 125.4 113.2 117.5 121.9 126.3 114.1 118.5 122.9 127.3" fill="#323232">20002001200220032004200520062007200820092010201120122013201420152016201720182019</text>
<text font-size="7.90" transform="translate(0 692.8) scale(1 1.078)" x="115.9 120.3 124.7 129.1 116.9 121.3 125.7 130.1 117.9 122.3 126.7 131.1 118.9 123.3 127.6 132.0 119.8 124.2 128.6 133.0 120.8 125.2 129.6 134.0 121.8 126.2 130.6 135.0 122.8 127.2 131.6 136.0 123.8 128.2 132.6 136.9 124.8 129.1 133.5 137.9 125.7 130.1 134.5 138.9 126.7 131.1 135.5 139.9 127.7 132.1 136.5 140.9 128.7 133.1 137.5 141.9 129.7 134.1 138.4 142.8 130.6 135.0 139.4 143.8 131.6 136.0 140.4 144.8 132.6 137.0 141.4 145.8 133.6 138.0 142.4 146.8 134.6 139.0 143.4 147.7" fill="#323232">20002001200220032004200520062007200820092010201120122013201420152016201720182019</text>
<text font-size="7.90" transform="translate(0 692.8) scale(1 1.078)" x="136.3 140.7 145.1 149.5 137.3 141.7 146.1 150.5 138.3 142.7 147.1 151.5 139.3 143.7 148.1 152.5 140.3 144.7 149.1 153.5 141.3 145.6 150.0 154.4 142.2 146.6 151.0 155.4 143.2 147.6 152.0 156.4 144.2 148.6 153.0 157.4 145.2 149.6 154.0 158.4 146.2 150.6 154.9 159.3 147.1 151.5 155.9 160.3 148.1 152.5 156.9 161.3 149.1 153.5 157.9 162.3 150.1 154.5 158.9 163.3 151.1 155.5 159.9 164.2 152.1 156.4 160.8 165.2 153.0 157.4 161.8 166.2 154.0 158.4 162.8 167.2 155.0 159.4 163.8 168.2" fill="#323232">20002001200220032004200520062007200820092010201120122013201420152016201720182019</text>
<text font-size="7.90" transform="translate(0 692.8) scale(1 1.078)" x="156.8 161.2 165.6 170.0 157.8 162.2 166.5 170.9 158.7 163.1 167.5 171.9 159.7 164.1 168.5 172.9 160.7 165.1 169.5 173.9 161.7 166.1 170.5 174.9 162.7 167.1 171.5 175.8 163.6 168.0 172.4 176.8 164.6 169.0 173.4 177.8 165.6 170.0 174.4 178.8 166.6 171.0 175.4 179.8 167.6 172.0 176.4 180.8 168.6 172.9 177.3 181.7 169.5 173.9 178.3 182.7 170.5 174.9 179.3 183.7 171.5 175.9 180.3 184.7 172.5 176.9 181.3 185.7 173.5 177.9 182.2 186.6 174.4 178.8 183.2 187.6 175.4 179.8 184.2 188.6" fill="#323232">20002001200220032004200520062007200820092010201120122013201420152016201720182019</text>
<text font-size="7.90" transform="translate(0 692.8) scale(1 1.078)" x="177.2 181.6 186.0 190.4 178.2 182.6 187.0 191.4 179.2 183.6 188.0 192.3 180.2 184.5 188.9 193.3 181.1 185.5 189.9 194.3 182.1 186.5 190.9 195.3 183.1 187.5 191.9 196.3 184.1 188.5 192.9 197.3 185.1 189.4 193.8 198.2 186.0 190.4 194.8 199.2 187.0 191.4 195.8 200.2 188.0 192.4 196.8 201.2 189.0 193.4 197.8 202.2 190.0 194.4 198.7 203.1 190.9 195.3 199.7 204.1 191.9 196.3 200.7 205.1 192.9 197.3 201.7 206.1 193.9 198.3 202.7 207.1 194.9 199.3 203.7 208.0 195.9 200.2 204.6 209.0" fill="#323232">20002001200220032004200520062007200820092010201120122013201420152016201720182019</text>
<text font-size="7.90" transform="translate(0 692.8) scale(1 1.078)" x="197.6 202.0 206.4 210.8 198.6 203.0 207.4 211.8 199.6 204.0 208.4 212.8 200.6 205.0 209.4 213.8 201.6 206.0 210.3 214.7 202.5 206.9 211.3 215.7 203.5 207.9 212.3 216.7 204.5 208.9 213.3 217.7 205.5 209.9 214.3 218.7 206.5 210.9 215.3 219.6 207.4 211.8 216.2 220.6 208.4 212.8 217.2 221.6 209.4 213.8 218.2 222.6 210.4 214.8 219.2 223.6 211.4 215.8 220.2 224.6 212.4 216.7 221.1 225.5 213.3 217.7 222.1 226.5 214.3 218.7 223.1 227.5 215.3 219.7 224.1 228.5 216.3 220.7 225.1 229.5" fill="#323232">20002001200220032004200520062007200820092010201120122013201420152016201720182019</text>
<text font-size="7.90" transform="translate(0 692.8) scale(1 1.078)" x="218.1 222.5 226.8 231.2 219.0 223.4 227.8 232.2 220.0 224.4 228.8 233.2 221.0 225.4 229.8 234.2 222.0 226.4 230.8 235.2 223.0 227.4 231.8 236.1 224.0 228.3 232.7 237.1 224.9 229.3 233.7 238.1 225.9 230.3 234.7 239.1 226.9 231.3 235.7 240.1 227.9 232.3 236.7 241.1 228.9 233.3 237.6 242.0 229.8 234.2 238.6 243.0 230.8 235.2 239.6 244.0 231.8 236.2 240.6 245.0 232.8 237.2 241.6 246.0 233.8 238.2 242.6 246.9 234.7 239.1 243.5 247.9 235.7 240.1 244.5 248.9 236.7 241.1 245.5 249.9" fill="#323232">20002001200220032004200520062007200820092010201120122013201420152016201720182019</text>
<text font-size="7.90" transform="translate(0 692.8) scale(1 1.078)" x="238.5 242.9 247.3 251.7 239.5 243.9 248.3 252.7 240.5 244.8 249.2 253.6 241.4 245.8 250.2 254.6 242.4 246.8 251.2 255.6 243.4 247.8 252.2 256.6 244.4 248.8 253.2 257.6 245.4 249.8 254.1 258.5 246.3 250.7 255.1 259.5 247.3 251.7 256.1 260.5 248.3 252.7 257.1 261.5 249.3 253.7 258.1 262.5 250.3 254.7 259.1 263.4 251.3 255.6 260.0 264.4 252.2 256.6 261.0 265.4 253.2 257.6 262.0 266.4 254.2 258.6 263.0 267.4 255.2 259.6 264.0 268.4 256.2 260.5 264.9 269.3 257.1 261.5 265.9 270.3" fill="#323232">20002001200220032004200520062007200820092010201120122013201420152016201720182019</text>
<text font-size="7.90" transform="translate(0 692.8) scale(1 1.078)" x="258.9 263.3 267.7 272.1 259.9 264.3 268.7 273.1 260.9 265.3 269.7 274.1 261.9 266.3 270.6 275.0 262.8 267.2 271.6 276.0 263.8 268.2 272.6 277.0 264.8 269.2 273.6 278.0 265.8 270.2 274.6 279.0 266.8 271.2 275.6 279.9 267.8 272.1 276.5 280.9 268.7 273.1 277.5 281.9 269.7 274.1 278.5 282.9 270.7 275.1 279.5 283.9 271.7 276.1 280.5 284.9 272.7 277.1 281.4 285.8 273.6 278.0 282.4 286.8 274.6 279.0 283.4 287.8 275.6 280.0 284.4 288.8 276.6 281.0 285.4 289.8 277.6 282.0 286.4 290.7" fill="#323232">20002001200220032004200520062007200820092010201120122013201420152016201720182019</text>
<text font-size="7.90" transform="translate(0 692.8) scale(1 1.078)" x="279.3 283.7 288.1 292.5 280.3 284.7 289.1 293.5 281.3 285.7 290.1 294.5 282.3 286.7 291.1 295.5 283.3 287.7 292.1 296.5 284.3 288.6 293.0 297.4 285.2 289.6 294.0 298.4 286.2 290.6 295.0 299.4 287.2 291.6 296.0 300.4 288.2 292.6 297.0 301.4 289.2 293.6 297.9 302.3 290.1 294.5 298.9 303.3 291.1 295.5 299.9 304.3 292.1 296.5 300.9 305.3 293.1 297.5 301.9 306.3 294.1 298.5 302.9 307.2 295.1 299.4 303.8 308.2 296.0 300.4 304.8 309.2 297.0 301.4 305.8 310.2 298.0 302.4 306.8 311.2" fill="#323232">20002001200220032004200520062007200820092010201120122013201420152016201720182019</text>
<text font-size="7.90" transform="translate(0 692.8) scale(1 1.078)" x="299.8 304.2 308.6 313.0 300.8 305.2 309.5 313.9 301.7 306.1 310.5 314.9 302.7 307.1 311.5 315.9 303.7 308.1 312.5 316.9 304.7 309.1 313.5 317.9 305.7 310.1 314.5 318.8 306.6 311.0 315.4 319.8 307.6 312.0 316.4 320.8 308.6 313.0 317.4 321.8 309.6 314.0 318.4 322.8 310.6 315.0 319.4 323.8 311.6 315.9 320.3 324.7 312.5 316.9 321.3 325.7 313.5 317.9 322.3 326.7 314.5 318.9 323.3 327.7 315.5 319.9 324.3 328.7 316.5 320.9 325.2 329.6 317.4 321.8 326.2 330.6 318.4 322.8 327.2 331.6" fill="#323232">20002001200220032004200520062007200820092010201120122013201420152016201720182019</text>
<text font-size="9.4" fill="#2a2a2a" text-anchor="middle" transform="translate(53.6 705.1) scale(1 0.87)">1</text>
<text font-size="9.4" fill="#2a2a2a" text-anchor="middle" transform="translate(74.0 705.1) scale(1 0.87)">2</text>
<text font-size="9.4" fill="#2a2a2a" text-anchor="middle" transform="translate(94.5 705.1) scale(1 0.87)">3</text>
<text font-size="9.4" fill="#2a2a2a" text-anchor="middle" transform="translate(114.9 705.1) scale(1 0.87)">4</text>
<text font-size="9.4" fill="#2a2a2a" text-anchor="middle" transform="translate(135.3 705.1) scale(1 0.87)">5</text>
<text font-size="9.4" fill="#2a2a2a" text-anchor="middle" transform="translate(155.8 705.1) scale(1 0.87)">6</text>
<text font-size="9.4" fill="#2a2a2a" text-anchor="middle" transform="translate(176.2 705.1) scale(1 0.87)">7</text>
<text font-size="9.4" fill="#2a2a2a" text-anchor="middle" transform="translate(196.6 705.1) scale(1 0.87)">8</text>
<text font-size="9.4" fill="#2a2a2a" text-anchor="middle" transform="translate(217.0 705.1) scale(1 0.87)">9</text>
<text font-size="9.4" fill="#2a2a2a" text-anchor="middle" transform="translate(237.5 705.1) scale(1 0.87)">10</text>
<text font-size="9.4" fill="#2a2a2a" text-anchor="middle" transform="translate(257.9 705.1) scale(1 0.87)">11</text>
<text font-size="9.4" fill="#2a2a2a" text-anchor="middle" transform="translate(278.3 705.1) scale(1 0.87)">12</text>
<text font-size="9.4" fill="#2a2a2a" text-anchor="middle" transform="translate(298.8 705.1) scale(1 0.87)">13</text>
<text font-size="9.4" fill="#2a2a2a" text-anchor="middle" transform="translate(319.2 705.1) scale(1 0.87)">14</text>
<text class="t" font-size="18.6" stroke="#000" stroke-width="0.0" transform="translate(0.3 733.1) scale(1 1.06)">NRR</text>
<g fill="none" stroke-width="1" shape-rendering="crispEdges">
<path stroke="#5986b1" d="M389.5 682.6V623.7M391.5 682.6V625.1M394.5 682.6V624.1M397.5 682.6V623.5M400.5 682.6V622.1M402.5 682.6V621.2M404.5 682.6V619.8M407.5 682.6V619.3M410.5 682.6V603.6M412.5 682.6V607.8M415.5 682.6V606.7M416.5 682.6V606.6M418.5 682.6V605.5M421.5 682.6V601.6M424.5 682.6V598.8M427.5 682.6V595.2M431.5 682.6V627.0M434.5 682.6V625.5M437.5 682.6V623.4M439.5 682.6V622.3M442.5 682.6V620.3M443.5 682.6V619.7M445.5 682.6V619.3M448.5 682.6V619.7M451.5 682.6V614.9M454.5 682.6V618.4M456.5 682.6V618.0M458.5 682.6V619.2M461.5 682.6V617.8M464.5 682.6V615.4M466.5 682.6V615.5M472.5 682.6V629.1M475.5 682.6V630.0M478.5 682.6V629.5M481.5 682.6V628.7M483.5 682.6V627.7M485.5 682.6V626.4M488.5 682.6V627.0M491.5 682.6V647.8M493.5 682.6V648.9M496.5 682.6V655.2M497.5 682.6V656.5M499.5 682.6V656.8M502.5 682.6V656.7M505.5 682.6V656.0M508.5 682.6V657.7M512.5 682.6V606.6M515.5 682.6V615.0M518.5 682.6V614.2M520.5 682.6V608.3M523.5 682.6V590.4M524.5 682.6V582.9M526.5 682.6V575.8M529.5 682.6V548.8M532.5 682.6V633.0M535.5 682.6V636.1M537.5 682.6V636.5M539.5 682.6V638.3M542.5 682.6V638.3M545.5 682.6V636.9M547.5 682.6V636.0M550.5 682.6V635.8M553.5 682.6V519.6M556.5 682.6V524.9M559.5 682.6V528.0M562.5 682.6V526.6M564.5 682.6V522.2M566.5 682.6V525.1M569.5 682.6V528.1M570.5 682.6V519.3M574.5 682.6V614.9M577.5 682.6V617.0M578.5 682.6V616.9M580.5 682.6V617.7M583.5 682.6V615.9M586.5 682.6V613.0M589.5 682.6V614.2M591.5 682.6V610.5M593.5 682.6V617.7M596.5 682.6V619.2M599.5 682.6V617.3M601.5 682.6V617.6M604.5 682.6V617.5M605.5 682.6V616.8M607.5 682.6V614.9M610.5 682.6V618.8M616.5 682.6V654.4M618.5 682.6V654.8M620.5 682.6V655.9M623.5 682.6V655.0M626.5 682.6V653.4M628.5 682.6V651.9M631.5 682.6V652.2M632.5 682.6V652.2M634.5 682.6V643.2M637.5 682.6V645.0M640.5 682.6V646.8M643.5 682.6V646.2M645.5 682.6V644.2M647.5 682.6V642.8M650.5 682.6V645.2M655.5 682.6V610.5M658.5 682.6V612.2M659.5 682.6V609.1M661.5 682.6V610.3M664.5 682.6V607.1M667.5 682.6V605.1M670.5 682.6V603.3M672.5 682.6V601.8"/>
<path stroke="#608cb6" d="M390.5 682.6V623.7M393.5 682.6V624.1M396.5 682.6V623.9M398.5 682.6V623.1M401.5 682.6V621.7M405.5 682.6V623.0M409.5 682.6V603.3M414.5 682.6V606.9M417.5 682.6V606.3M420.5 682.6V602.9M423.5 682.6V599.5M425.5 682.6V599.7M428.5 682.6V595.2M432.5 682.6V629.8M435.5 682.6V624.0M436.5 682.6V623.8M441.5 682.6V621.0M444.5 682.6V619.5M447.5 682.6V621.5M450.5 682.6V614.9M452.5 682.6V620.0M455.5 682.6V617.5M459.5 682.6V619.7M462.5 682.6V617.1M463.5 682.6V616.1M468.5 682.6V614.9M471.5 682.6V629.1M474.5 682.6V630.5M477.5 682.6V629.7M479.5 682.6V629.3M482.5 682.6V628.3M486.5 682.6V625.9M489.5 682.6V627.0M495.5 682.6V652.4M498.5 682.6V656.8M501.5 682.6V656.8M504.5 682.6V656.4M506.5 682.6V655.7M509.5 682.6V655.4M513.5 682.6V611.6M516.5 682.6V614.5M517.5 682.6V614.2M522.5 682.6V590.7M525.5 682.6V576.2M528.5 682.6V565.0M533.5 682.6V633.2M536.5 682.6V635.9M540.5 682.6V638.6M543.5 682.6V637.9M544.5 682.6V637.4M549.5 682.6V639.3M552.5 682.6V515.9M555.5 682.6V528.1M558.5 682.6V527.3M560.5 682.6V526.9M563.5 682.6V526.6M567.5 682.6V524.7M576.5 682.6V617.3M579.5 682.6V617.6M582.5 682.6V616.6M585.5 682.6V613.8M587.5 682.6V612.0M590.5 682.6V610.5M594.5 682.6V617.4M597.5 682.6V618.2M598.5 682.6V617.1M603.5 682.6V617.8M606.5 682.6V615.8M609.5 682.6V614.2M614.5 682.6V653.6M617.5 682.6V654.6M621.5 682.6V656.2M624.5 682.6V654.5M625.5 682.6V653.9M630.5 682.6V653.6M636.5 682.6V644.9M639.5 682.6V646.4M641.5 682.6V647.0M644.5 682.6V645.2M648.5 682.6V642.2M651.5 682.6V646.3M652.5 682.6V644.1M657.5 682.6V614.9M660.5 682.6V610.0M663.5 682.6V609.4M666.5 682.6V605.8M668.5 682.6V604.5M671.5 682.6V606.2"/>
<path stroke="#6a94bc" d="M392.5 682.6V625.1M399.5 682.6V622.6M406.5 682.6V623.0M411.5 682.6V608.4M419.5 682.6V604.4M426.5 682.6V601.1M433.5 682.6V629.5M438.5 682.6V622.9M446.5 682.6V621.5M453.5 682.6V620.0M460.5 682.6V620.0M465.5 682.6V615.1M473.5 682.6V630.5M480.5 682.6V629.0M487.5 682.6V630.0M492.5 682.6V648.0M500.5 682.6V656.8M507.5 682.6V655.4M514.5 682.6V615.3M519.5 682.6V614.2M527.5 682.6V571.1M534.5 682.6V635.9M541.5 682.6V638.6M546.5 682.6V636.3M554.5 682.6V519.9M561.5 682.6V526.7M568.5 682.6V523.7M573.5 682.6V615.6M581.5 682.6V617.3M588.5 682.6V611.4M595.5 682.6V619.6M600.5 682.6V617.4M608.5 682.6V614.4M615.5 682.6V653.9M622.5 682.6V655.6M627.5 682.6V652.6M635.5 682.6V643.3M642.5 682.6V647.0M649.5 682.6V642.0M654.5 682.6V610.2M662.5 682.6V610.4M669.5 682.6V603.9"/>
<path stroke="#7ba1c5" d="M395.5 682.6V624.1M403.5 682.6V620.5M413.5 682.6V607.2M422.5 682.6V600.5M430.5 682.6V627.0M440.5 682.6V621.7M457.5 682.6V618.7M467.5 682.6V616.4M476.5 682.6V629.8M484.5 682.6V627.4M494.5 682.6V650.5M503.5 682.6V656.6M511.5 682.6V606.3M521.5 682.6V608.1M530.5 682.6V548.8M538.5 682.6V637.5M548.5 682.6V639.3M557.5 682.6V526.1M565.5 682.6V524.2M575.5 682.6V617.7M584.5 682.6V615.2M602.5 682.6V617.8M611.5 682.6V616.4M619.5 682.6V655.4M629.5 682.6V651.4M638.5 682.6V645.4M646.5 682.6V643.5M656.5 682.6V611.6M665.5 682.6V606.4M673.5 682.6V601.8"/>
<path stroke="#dfe8f1" d="M408.5 682.6V619.3M429.5 682.6V627.0M449.5 682.6V619.7M490.5 682.6V647.8M510.5 682.6V655.4M531.5 682.6V633.0M551.5 682.6V635.8M592.5 682.6V617.7M633.5 682.6V652.2M653.5 682.6V644.1"/>
</g>
<path d="M379.5 682.9H682.0" fill="none" stroke="#888" stroke-width="1"/>
<path d="M380.0 508.2V683.4" fill="none" stroke="#a6a6a6" stroke-width="1.8"/>
<path d="M376.4 682.9H380.0" stroke="#888" stroke-width="1"/>
<text font-size="7.2" fill="#5a5a5a" text-anchor="middle" transform="translate(373.6 682.9) rotate(-90) scale(1 1.22)">0</text>
<path d="M376.4 608.7H380.0" stroke="#888" stroke-width="1"/>
<text font-size="7.2" fill="#5a5a5a" text-anchor="middle" transform="translate(373.6 608.7) rotate(-90) scale(1 1.22)">50,000</text>
<path d="M376.4 534.5H380.0" stroke="#888" stroke-width="1"/>
<text font-size="7.2" fill="#5a5a5a" text-anchor="middle" transform="translate(373.6 534.5) rotate(-90) scale(1 1.22)">100000</text>
<text font-size="7.0" fill="#5a5a5a" letter-spacing="0.3" text-anchor="middle" transform="translate(363.2 595.5) rotate(-90) scale(1 1.22)">mean of gdp</text>
<text font-size="7.90" transform="translate(0 693.0) scale(1 0.972)" x="380.2 384.6 389.0 393.4 381.2 385.6 390.0 394.4 382.2 386.6 390.9 395.3 383.1 387.5 391.9 396.3 384.1 388.5 392.9 397.3 385.1 389.5 393.9 398.3 386.1 390.5 394.9 399.2 387.0 391.4 395.8 400.2 388.0 392.4 396.8 401.2 389.0 393.4 397.8 402.2 390.0 394.4 398.8 403.2 391.0 395.4 399.7 404.1 391.9 396.3 400.7 405.1 392.9 397.3 401.7 406.1 393.9 398.3 402.7 407.1 394.9 399.3 403.7 408.0 395.8 400.2 404.6 409.0 396.8 401.2 405.6 410.0 397.8 402.2 406.6 411.0 398.8 403.2 407.6 412.0" fill="#444">20002001200220032004200520062007200820092010201120122013201420152016201720182019</text>
<text font-size="7.90" transform="translate(0 693.0) scale(1 0.972)" x="400.6 405.0 409.3 413.7 401.5 405.9 410.3 414.7 402.5 406.9 411.3 415.7 403.5 407.9 412.3 416.7 404.5 408.9 413.3 417.6 405.5 409.8 414.2 418.6 406.4 410.8 415.2 419.6 407.4 411.8 416.2 420.6 408.4 412.8 417.2 421.6 409.4 413.8 418.1 422.5 410.3 414.7 419.1 423.5 411.3 415.7 420.1 424.5 412.3 416.7 421.1 425.5 413.3 417.7 422.1 426.5 414.3 418.6 423.0 427.4 415.2 419.6 424.0 428.4 416.2 420.6 425.0 429.4 417.2 421.6 426.0 430.4 418.2 422.6 426.9 431.3 419.1 423.5 427.9 432.3" fill="#444">20002001200220032004200520062007200820092010201120122013201420152016201720182019</text>
<text font-size="7.90" transform="translate(0 693.0) scale(1 0.972)" x="420.9 425.3 429.7 434.1 421.9 426.3 430.7 435.1 422.9 427.3 431.7 436.1 423.9 428.2 432.6 437.0 424.8 429.2 433.6 438.0 425.8 430.2 434.6 439.0 426.8 431.2 435.6 440.0 427.8 432.2 436.5 440.9 428.7 433.1 437.5 441.9 429.7 434.1 438.5 442.9 430.7 435.1 439.5 443.9 431.7 436.1 440.5 444.9 432.7 437.0 441.4 445.8 433.6 438.0 442.4 446.8 434.6 439.0 443.4 447.8 435.6 440.0 444.4 448.8 436.6 441.0 445.3 449.7 437.5 441.9 446.3 450.7 438.5 442.9 447.3 451.7 439.5 443.9 448.3 452.7" fill="#444">20002001200220032004200520062007200820092010201120122013201420152016201720182019</text>
<text font-size="7.90" transform="translate(0 693.0) scale(1 0.972)" x="441.3 445.7 450.1 454.5 442.3 446.6 451.0 455.4 443.2 447.6 452.0 456.4 444.2 448.6 453.0 457.4 445.2 449.6 454.0 458.4 446.2 450.6 454.9 459.3 447.1 451.5 455.9 460.3 448.1 452.5 456.9 461.3 449.1 453.5 457.9 462.3 450.1 454.5 458.9 463.3 451.1 455.4 459.8 464.2 452.0 456.4 460.8 465.2 453.0 457.4 461.8 466.2 454.0 458.4 462.8 467.2 455.0 459.4 463.8 468.1 455.9 460.3 464.7 469.1 456.9 461.3 465.7 470.1 457.9 462.3 466.7 471.1 458.9 463.3 467.7 472.1 459.9 464.2 468.6 473.0" fill="#444">20002001200220032004200520062007200820092010201120122013201420152016201720182019</text>
<text font-size="7.90" transform="translate(0 693.0) scale(1 0.972)" x="461.6 466.0 470.4 474.8 462.6 467.0 471.4 475.8 463.6 468.0 472.4 476.8 464.6 469.0 473.4 477.7 465.5 469.9 474.3 478.7 466.5 470.9 475.3 479.7 467.5 471.9 476.3 480.7 468.5 472.9 477.3 481.7 469.5 473.8 478.2 482.6 470.4 474.8 479.2 483.6 471.4 475.8 480.2 484.6 472.4 476.8 481.2 485.6 473.4 477.8 482.2 486.5 474.3 478.7 483.1 487.5 475.3 479.7 484.1 488.5 476.3 480.7 485.1 489.5 477.3 481.7 486.1 490.5 478.3 482.6 487.0 491.4 479.2 483.6 488.0 492.4 480.2 484.6 489.0 493.4" fill="#444">20002001200220032004200520062007200820092010201120122013201420152016201720182019</text>
<text font-size="7.90" transform="translate(0 693.0) scale(1 0.972)" x="482.0 486.4 490.8 495.2 483.0 487.4 491.8 496.1 483.9 488.3 492.7 497.1 484.9 489.3 493.7 498.1 485.9 490.3 494.7 499.1 486.9 491.3 495.7 500.1 487.9 492.2 496.6 501.0 488.8 493.2 497.6 502.0 489.8 494.2 498.6 503.0 490.8 495.2 499.6 504.0 491.8 496.2 500.6 504.9 492.7 497.1 501.5 505.9 493.7 498.1 502.5 506.9 494.7 499.1 503.5 507.9 495.7 500.1 504.5 508.9 496.7 501.1 505.4 509.8 497.6 502.0 506.4 510.8 498.6 503.0 507.4 511.8 499.6 504.0 508.4 512.8 500.6 505.0 509.4 513.7" fill="#444">20002001200220032004200520062007200820092010201120122013201420152016201720182019</text>
<text font-size="7.90" transform="translate(0 693.0) scale(1 0.972)" x="502.3 506.7 511.1 515.5 503.3 507.7 512.1 516.5 504.3 508.7 513.1 517.5 505.3 509.7 514.1 518.5 506.3 510.7 515.0 519.4 507.2 511.6 516.0 520.4 508.2 512.6 517.0 521.4 509.2 513.6 518.0 522.4 510.2 514.6 519.0 523.3 511.1 515.5 519.9 524.3 512.1 516.5 520.9 525.3 513.1 517.5 521.9 526.3 514.1 518.5 522.9 527.3 515.1 519.5 523.8 528.2 516.0 520.4 524.8 529.2 517.0 521.4 525.8 530.2 518.0 522.4 526.8 531.2 519.0 523.4 527.8 532.1 519.9 524.3 528.7 533.1 520.9 525.3 529.7 534.1" fill="#444">20002001200220032004200520062007200820092010201120122013201420152016201720182019</text>
<text font-size="7.90" transform="translate(0 693.0) scale(1 0.972)" x="522.7 527.1 531.5 535.9 523.7 528.1 532.5 536.9 524.7 529.1 533.4 537.8 525.6 530.0 534.4 538.8 526.6 531.0 535.4 539.8 527.6 532.0 536.4 540.8 528.6 533.0 537.4 541.7 529.5 533.9 538.3 542.7 530.5 534.9 539.3 543.7 531.5 535.9 540.3 544.7 532.5 536.9 541.3 545.7 533.5 537.9 542.2 546.6 534.4 538.8 543.2 547.6 535.4 539.8 544.2 548.6 536.4 540.8 545.2 549.6 537.4 541.8 546.2 550.5 538.3 542.7 547.1 551.5 539.3 543.7 548.1 552.5 540.3 544.7 549.1 553.5 541.3 545.7 550.1 554.5" fill="#444">20002001200220032004200520062007200820092010201120122013201420152016201720182019</text>
<text font-size="7.90" transform="translate(0 693.0) scale(1 0.972)" x="543.1 547.5 551.8 556.2 544.0 548.4 552.8 557.2 545.0 549.4 553.8 558.2 546.0 550.4 554.8 559.2 547.0 551.4 555.8 560.1 548.0 552.3 556.7 561.1 548.9 553.3 557.7 562.1 549.9 554.3 558.7 563.1 550.9 555.3 559.7 564.1 551.9 556.3 560.6 565.0 552.8 557.2 561.6 566.0 553.8 558.2 562.6 567.0 554.8 559.2 563.6 568.0 555.8 560.2 564.6 569.0 556.8 561.1 565.5 569.9 557.7 562.1 566.5 570.9 558.7 563.1 567.5 571.9 559.7 564.1 568.5 572.9 560.7 565.1 569.4 573.8 561.6 566.0 570.4 574.8" fill="#444">20002001200220032004200520062007200820092010201120122013201420152016201720182019</text>
<text font-size="7.90" transform="translate(0 693.0) scale(1 0.972)" x="563.4 567.8 572.2 576.6 564.4 568.8 573.2 577.6 565.4 569.8 574.2 578.6 566.4 570.7 575.1 579.5 567.3 571.7 576.1 580.5 568.3 572.7 577.1 581.5 569.3 573.7 578.1 582.5 570.3 574.7 579.0 583.4 571.2 575.6 580.0 584.4 572.2 576.6 581.0 585.4 573.2 577.6 582.0 586.4 574.2 578.6 583.0 587.4 575.2 579.5 583.9 588.3 576.1 580.5 584.9 589.3 577.1 581.5 585.9 590.3 578.1 582.5 586.9 591.3 579.1 583.5 587.8 592.2 580.0 584.4 588.8 593.2 581.0 585.4 589.8 594.2 582.0 586.4 590.8 595.2" fill="#444">20002001200220032004200520062007200820092010201120122013201420152016201720182019</text>
<text font-size="7.90" transform="translate(0 693.0) scale(1 0.972)" x="583.8 588.2 592.6 597.0 584.8 589.1 593.5 597.9 585.7 590.1 594.5 598.9 586.7 591.1 595.5 599.9 587.7 592.1 596.5 600.9 588.7 593.1 597.4 601.8 589.6 594.0 598.4 602.8 590.6 595.0 599.4 603.8 591.6 596.0 600.4 604.8 592.6 597.0 601.4 605.8 593.6 597.9 602.3 606.7 594.5 598.9 603.3 607.7 595.5 599.9 604.3 608.7 596.5 600.9 605.3 609.7 597.5 601.9 606.3 610.6 598.4 602.8 607.2 611.6 599.4 603.8 608.2 612.6 600.4 604.8 609.2 613.6 601.4 605.8 610.2 614.6 602.4 606.7 611.1 615.5" fill="#444">20002001200220032004200520062007200820092010201120122013201420152016201720182019</text>
<text font-size="7.90" transform="translate(0 693.0) scale(1 0.972)" x="604.1 608.5 612.9 617.3 605.1 609.5 613.9 618.3 606.1 610.5 614.9 619.3 607.1 611.5 615.9 620.2 608.0 612.4 616.8 621.2 609.0 613.4 617.8 622.2 610.0 614.4 618.8 623.2 611.0 615.4 619.8 624.2 612.0 616.3 620.7 625.1 612.9 617.3 621.7 626.1 613.9 618.3 622.7 627.1 614.9 619.3 623.7 628.1 615.9 620.3 624.7 629.0 616.8 621.2 625.6 630.0 617.8 622.2 626.6 631.0 618.8 623.2 627.6 632.0 619.8 624.2 628.6 633.0 620.8 625.1 629.5 633.9 621.7 626.1 630.5 634.9 622.7 627.1 631.5 635.9" fill="#444">20002001200220032004200520062007200820092010201120122013201420152016201720182019</text>
<text font-size="7.90" transform="translate(0 693.0) scale(1 0.972)" x="624.5 628.9 633.3 637.7 625.5 629.9 634.3 638.6 626.4 630.8 635.2 639.6 627.4 631.8 636.2 640.6 628.4 632.8 637.2 641.6 629.4 633.8 638.2 642.6 630.4 634.7 639.1 643.5 631.3 635.7 640.1 644.5 632.3 636.7 641.1 645.5 633.3 637.7 642.1 646.5 634.3 638.7 643.1 647.4 635.2 639.6 644.0 648.4 636.2 640.6 645.0 649.4 637.2 641.6 646.0 650.4 638.2 642.6 647.0 651.4 639.2 643.6 647.9 652.3 640.1 644.5 648.9 653.3 641.1 645.5 649.9 654.3 642.1 646.5 650.9 655.3 643.1 647.5 651.9 656.2" fill="#444">20002001200220032004200520062007200820092010201120122013201420152016201720182019</text>
<text font-size="7.90" transform="translate(0 693.0) scale(1 0.972)" x="644.8 649.2 653.6 658.0 645.8 650.2 654.6 659.0 646.8 651.2 655.6 660.0 647.8 652.2 656.6 661.0 648.8 653.2 657.5 661.9 649.7 654.1 658.5 662.9 650.7 655.1 659.5 663.9 651.7 656.1 660.5 664.9 652.7 657.1 661.5 665.8 653.6 658.0 662.4 666.8 654.6 659.0 663.4 667.8 655.6 660.0 664.4 668.8 656.6 661.0 665.4 669.8 657.6 662.0 666.3 670.7 658.5 662.9 667.3 671.7 659.5 663.9 668.3 672.7 660.5 664.9 669.3 673.7 661.5 665.9 670.3 674.6 662.4 666.8 671.2 675.6 663.4 667.8 672.2 676.6" fill="#444">20002001200220032004200520062007200820092010201120122013201420152016201720182019</text>
<text font-size="9.4" fill="#5a5a5a" text-anchor="middle" transform="translate(399.3 706.2) scale(1 0.90)">1</text>
<text font-size="9.4" fill="#5a5a5a" text-anchor="middle" transform="translate(419.7 706.2) scale(1 0.90)">2</text>
<text font-size="9.4" fill="#5a5a5a" text-anchor="middle" transform="translate(440.0 706.2) scale(1 0.90)">3</text>
<text font-size="9.4" fill="#5a5a5a" text-anchor="middle" transform="translate(460.4 706.2) scale(1 0.90)">4</text>
<text font-size="9.4" fill="#5a5a5a" text-anchor="middle" transform="translate(480.8 706.2) scale(1 0.90)">5</text>
<text font-size="9.4" fill="#5a5a5a" text-anchor="middle" transform="translate(501.1 706.2) scale(1 0.90)">6</text>
<text font-size="9.4" fill="#5a5a5a" text-anchor="middle" transform="translate(521.5 706.2) scale(1 0.90)">7</text>
<text font-size="9.4" fill="#5a5a5a" text-anchor="middle" transform="translate(541.8 706.2) scale(1 0.90)">8</text>
<text font-size="9.4" fill="#5a5a5a" text-anchor="middle" transform="translate(562.2 706.2) scale(1 0.90)">9</text>
<text font-size="9.4" fill="#5a5a5a" text-anchor="middle" transform="translate(582.5 706.2) scale(1 0.90)">10</text>
<text font-size="9.4" fill="#5a5a5a" text-anchor="middle" transform="translate(602.9 706.2) scale(1 0.90)">11</text>
<text font-size="9.4" fill="#5a5a5a" text-anchor="middle" transform="translate(623.3 706.2) scale(1 0.90)">12</text>
<text font-size="9.4" fill="#5a5a5a" text-anchor="middle" transform="translate(643.6 706.2) scale(1 0.90)">13</text>
<text font-size="9.4" fill="#5a5a5a" text-anchor="middle" transform="translate(664.0 706.2) scale(1 0.90)">14</text>
<text class="t" font-size="18.6" stroke="#000" stroke-width="0.0" transform="translate(374.8 733.4) scale(1 1.06)">GDP</text>
<g fill="none" stroke-width="1" shape-rendering="crispEdges">
<path stroke="#668aae" d="M43.5 841.4V819.2M47.5 841.4V814.1M48.5 841.4V802.8M51.5 841.4V827.6M55.5 841.4V827.0M58.5 841.4V825.3M63.5 841.4V828.2M67.5 841.4V827.8M69.5 841.4V829.3M74.5 841.4V819.8M78.5 841.4V826.9M81.5 841.4V833.5M84.5 841.4V843.5M88.5 841.4V846.2M89.5 841.4V896.6M92.5 841.4V833.4M96.5 841.4V817.4M99.5 841.4V833.8M104.5 841.4V829.4M108.5 841.4V827.7M110.5 841.4V827.8M115.5 841.4V832.1M119.5 841.4V837.5M122.5 841.4V836.7M125.5 841.4V823.4M129.5 841.4V826.9M133.5 841.4V826.3M137.5 841.4V833.8M140.5 841.4V831.3M145.5 841.4V833.8M149.5 841.4V837.9M151.5 841.4V846.2M156.5 841.4V854.2M160.5 841.4V844.6M163.5 841.4V843.3M164.5 841.4V877.6M166.5 841.4V755.1M170.5 841.4V825.6M174.5 841.4V825.9M178.5 841.4V808.0M181.5 841.4V808.7M182.5 841.4V800.6M186.5 841.4V826.5M190.5 841.4V832.3M192.5 841.4V836.9M194.5 841.4V807.2M197.5 841.4V843.9M201.5 841.4V846.2M202.5 841.4V875.8M204.5 841.4V855.0M207.5 841.4V795.4M211.5 841.4V787.0M215.5 841.4V772.3M219.5 841.4V777.3M220.5 841.4V769.0M222.5 841.4V783.7M227.5 841.4V835.1M231.5 841.4V826.3M233.5 841.4V828.4M238.5 841.4V827.8M242.5 841.4V824.3M245.5 841.4V825.5M248.5 841.4V832.0M252.5 841.4V834.5M256.5 841.4V824.2M260.5 841.4V809.4M263.5 841.4V827.8M268.5 841.4V835.7M272.5 841.4V840.7M274.5 841.4V846.1M279.5 841.4V853.4M283.5 841.4V845.9M286.5 841.4V822.8M289.5 841.4V786.1M293.5 841.4V828.2M297.5 841.4V850.4M301.5 841.4V839.2M304.5 841.4V820.4M309.5 841.4V819.5M313.5 841.4V816.4M315.5 841.4V819.3M320.5 841.4V809.9M324.5 841.4V807.6M327.5 841.4V823.8"/>
<path stroke="#7b9ab7" d="M45.5 841.4V817.5M49.5 841.4V823.6M54.5 841.4V824.3M56.5 841.4V829.9M60.5 841.4V828.6M66.5 841.4V826.2M71.5 841.4V829.2M75.5 841.4V818.5M80.5 841.4V832.3M86.5 841.4V847.7M90.5 841.4V836.7M95.5 841.4V816.0M97.5 841.4V830.4M101.5 841.4V839.6M107.5 841.4V827.7M112.5 841.4V827.9M116.5 841.4V833.2M121.5 841.4V838.2M127.5 841.4V826.1M131.5 841.4V827.2M136.5 841.4V832.2M138.5 841.4V832.7M142.5 841.4V833.5M148.5 841.4V837.4M153.5 841.4V862.9M157.5 841.4V853.5M162.5 841.4V847.7M168.5 841.4V811.3M172.5 841.4V829.3M177.5 841.4V812.6M179.5 841.4V809.0M183.5 841.4V811.6M189.5 841.4V828.1M198.5 841.4V846.2M203.5 841.4V854.5M209.5 841.4V786.5M213.5 841.4V769.7M218.5 841.4V777.0M224.5 841.4V792.0M230.5 841.4V827.5M235.5 841.4V832.9M239.5 841.4V826.3M244.5 841.4V825.3M250.5 841.4V833.7M254.5 841.4V828.2M259.5 841.4V809.1M261.5 841.4V821.1M265.5 841.4V829.1M271.5 841.4V839.5M276.5 841.4V857.6M280.5 841.4V849.9M285.5 841.4V838.5M291.5 841.4V815.3M295.5 841.4V839.6M300.5 841.4V839.8M302.5 841.4V835.0M306.5 841.4V827.6M312.5 841.4V816.4M317.5 841.4V816.6M321.5 841.4V804.1M326.5 841.4V820.5"/>
<path stroke="#8aa7c1" d="M44.5 841.4V818.2M50.5 841.4V823.9M52.5 841.4V828.1M59.5 841.4V825.3M65.5 841.4V824.3M68.5 841.4V828.3M72.5 841.4V827.8M77.5 841.4V822.8M82.5 841.4V828.7M85.5 841.4V844.6M91.5 841.4V836.4M93.5 841.4V829.1M100.5 841.4V837.6M106.5 841.4V828.0M109.5 841.4V828.1M113.5 841.4V829.0M118.5 841.4V835.6M123.5 841.4V835.5M126.5 841.4V825.4M132.5 841.4V826.8M134.5 841.4V828.0M141.5 841.4V831.6M147.5 841.4V833.6M150.5 841.4V840.4M154.5 841.4V861.9M159.5 841.4V846.5M167.5 841.4V780.7M173.5 841.4V829.1M175.5 841.4V819.5M188.5 841.4V821.8M191.5 841.4V832.6M195.5 841.4V814.1M200.5 841.4V842.9M205.5 841.4V856.4M208.5 841.4V788.2M214.5 841.4V769.4M216.5 841.4V771.2M223.5 841.4V783.2M229.5 841.4V830.1M232.5 841.4V826.7M236.5 841.4V831.8M241.5 841.4V824.3M246.5 841.4V826.2M249.5 841.4V832.0M255.5 841.4V826.4M257.5 841.4V818.1M264.5 841.4V828.6M270.5 841.4V838.0M277.5 841.4V857.5M282.5 841.4V846.4M287.5 841.4V822.8M290.5 841.4V794.5M298.5 841.4V850.0M305.5 841.4V820.4M311.5 841.4V817.9M314.5 841.4V818.9M318.5 841.4V812.6M323.5 841.4V801.4M328.5 841.4V824.0"/>
<path stroke="#a1b9cd" d="M46.5 841.4V817.1M53.5 841.4V824.3M57.5 841.4V827.9M61.5 841.4V829.1M64.5 841.4V828.0M70.5 841.4V830.0M73.5 841.4V826.0M76.5 841.4V822.4M79.5 841.4V831.7M87.5 841.4V848.3M94.5 841.4V816.0M98.5 841.4V833.1M102.5 841.4V840.7M105.5 841.4V828.8M111.5 841.4V827.7M114.5 841.4V830.2M117.5 841.4V834.1M120.5 841.4V838.2M128.5 841.4V826.6M130.5 841.4V827.2M135.5 841.4V830.9M139.5 841.4V831.1M143.5 841.4V833.5M146.5 841.4V833.6M152.5 841.4V851.3M155.5 841.4V860.8M158.5 841.4V847.7M161.5 841.4V843.9M169.5 841.4V825.0M171.5 841.4V829.2M176.5 841.4V813.4M180.5 841.4V804.4M184.5 841.4V813.2M187.5 841.4V826.5M193.5 841.4V833.5M196.5 841.4V814.5M199.5 841.4V843.3M210.5 841.4V786.2M212.5 841.4V774.9M217.5 841.4V771.2M221.5 841.4V784.2M225.5 841.4V796.3M228.5 841.4V834.5M234.5 841.4V831.5M237.5 841.4V830.2M240.5 841.4V824.3M243.5 841.4V821.8M251.5 841.4V835.0M253.5 841.4V831.1M258.5 841.4V808.2M262.5 841.4V827.3M266.5 841.4V828.4M269.5 841.4V836.0M275.5 841.4V851.8M278.5 841.4V857.3M281.5 841.4V849.6M292.5 841.4V815.5M294.5 841.4V831.3M299.5 841.4V842.5M303.5 841.4V828.3M307.5 841.4V838.5M310.5 841.4V819.0M316.5 841.4V820.4M319.5 841.4V812.4M322.5 841.4V801.4M325.5 841.4V811.9"/>
<path stroke="#dbe5ee" d="M62.5 841.4V829.1M103.5 841.4V840.7M124.5 841.4V835.5M144.5 841.4V833.8M185.5 841.4V826.5M226.5 841.4V835.1M247.5 841.4V832.0M267.5 841.4V835.7M288.5 841.4V822.8M308.5 841.4V838.5"/>
</g>
<path d="M34.0 908.4H336.0" fill="none" stroke="#777" stroke-width="1"/>
<path d="M34.5 744.9V908.9" fill="none" stroke="#666" stroke-width="1.0"/>
<path d="M30.9 901.4H34.5" stroke="#777" stroke-width="1"/>
<text font-size="7.6" fill="#2a2a2a" text-anchor="middle" transform="translate(28.1 901.4) rotate(-90) scale(1 1.20)">-2</text>
<path d="M30.9 871.4H34.5" stroke="#777" stroke-width="1"/>
<text font-size="7.6" fill="#2a2a2a" text-anchor="middle" transform="translate(28.1 871.4) rotate(-90) scale(1 1.20)">-1</text>
<path d="M30.9 841.4H34.5" stroke="#777" stroke-width="1"/>
<text font-size="7.6" fill="#2a2a2a" text-anchor="middle" transform="translate(28.1 841.4) rotate(-90) scale(1 1.20)">0</text>
<path d="M30.9 811.4H34.5" stroke="#777" stroke-width="1"/>
<text font-size="7.6" fill="#2a2a2a" text-anchor="middle" transform="translate(28.1 811.4) rotate(-90) scale(1 1.20)">1</text>
<path d="M30.9 781.4H34.5" stroke="#777" stroke-width="1"/>
<text font-size="7.6" fill="#2a2a2a" text-anchor="middle" transform="translate(28.1 781.4) rotate(-90) scale(1 1.20)">2</text>
<path d="M30.9 751.4H34.5" stroke="#777" stroke-width="1"/>
<text font-size="7.6" fill="#2a2a2a" text-anchor="middle" transform="translate(28.1 751.4) rotate(-90) scale(1 1.20)">3</text>
<text font-size="7.1" fill="#2a2a2a" letter-spacing="0.0" text-anchor="middle" transform="translate(17.7 826.6) rotate(-90) scale(1 1.25)">mean of popg</text>
<text font-size="7.90" transform="translate(0 917.2) scale(1 1.008)" x="34.2 38.6 43.0 47.4 35.2 39.6 44.0 48.4 36.2 40.6 45.0 49.3 37.2 41.5 45.9 50.3 38.1 42.5 46.9 51.3 39.1 43.5 47.9 52.3 40.1 44.5 48.9 53.3 41.1 45.5 49.9 54.3 42.1 46.4 50.8 55.2 43.0 47.4 51.8 56.2 44.0 48.4 52.8 57.2 45.0 49.4 53.8 58.2 46.0 50.4 54.8 59.2 47.0 51.4 55.7 60.1 47.9 52.3 56.7 61.1 48.9 53.3 57.7 62.1 49.9 54.3 58.7 63.1 50.9 55.3 59.7 64.1 51.9 56.3 60.7 65.0 52.9 57.2 61.6 66.0" fill="#323232">20002001200220032004200520062007200820092010201120122013201420152016201720182019</text>
<text font-size="7.90" transform="translate(0 917.2) scale(1 1.008)" x="54.6 59.0 63.4 67.8 55.6 60.0 64.4 68.8 56.6 61.0 65.4 69.8 57.6 62.0 66.4 70.8 58.6 63.0 67.3 71.7 59.5 63.9 68.3 72.7 60.5 64.9 69.3 73.7 61.5 65.9 70.3 74.7 62.5 66.9 71.3 75.7 63.5 67.9 72.3 76.6 64.4 68.8 73.2 77.6 65.4 69.8 74.2 78.6 66.4 70.8 75.2 79.6 67.4 71.8 76.2 80.6 68.4 72.8 77.2 81.6 69.4 73.7 78.1 82.5 70.3 74.7 79.1 83.5 71.3 75.7 80.1 84.5 72.3 76.7 81.1 85.5 73.3 77.7 82.1 86.5" fill="#323232">20002001200220032004200520062007200820092010201120122013201420152016201720182019</text>
<text font-size="7.90" transform="translate(0 917.2) scale(1 1.008)" x="75.1 79.5 83.8 88.2 76.0 80.4 84.8 89.2 77.0 81.4 85.8 90.2 78.0 82.4 86.8 91.2 79.0 83.4 87.8 92.2 80.0 84.4 88.8 93.1 81.0 85.3 89.7 94.1 81.9 86.3 90.7 95.1 82.9 87.3 91.7 96.1 83.9 88.3 92.7 97.1 84.9 89.3 93.7 98.1 85.9 90.3 94.6 99.0 86.8 91.2 95.6 100.0 87.8 92.2 96.6 101.0 88.8 93.2 97.6 102.0 89.8 94.2 98.6 103.0 90.8 95.2 99.6 103.9 91.7 96.1 100.5 104.9 92.7 97.1 101.5 105.9 93.7 98.1 102.5 106.9" fill="#323232">20002001200220032004200520062007200820092010201120122013201420152016201720182019</text>
<text font-size="7.90" transform="translate(0 917.2) scale(1 1.008)" x="95.5 99.9 104.3 108.7 96.5 100.9 105.3 109.7 97.5 101.8 106.2 110.6 98.4 102.8 107.2 111.6 99.4 103.8 108.2 112.6 100.4 104.8 109.2 113.6 101.4 105.8 110.2 114.6 102.4 106.8 111.1 115.5 103.3 107.7 112.1 116.5 104.3 108.7 113.1 117.5 105.3 109.7 114.1 118.5 106.3 110.7 115.1 119.5 107.3 111.7 116.1 120.4 108.3 112.6 117.0 121.4 109.2 113.6 118.0 122.4 110.2 114.6 119.0 123.4 111.2 115.6 120.0 124.4 112.2 116.6 121.0 125.4 113.2 117.5 121.9 126.3 114.1 118.5 122.9 127.3" fill="#323232">20002001200220032004200520062007200820092010201120122013201420152016201720182019</text>
<text font-size="7.90" transform="translate(0 917.2) scale(1 1.008)" x="115.9 120.3 124.7 129.1 116.9 121.3 125.7 130.1 117.9 122.3 126.7 131.1 118.9 123.3 127.6 132.0 119.8 124.2 128.6 133.0 120.8 125.2 129.6 134.0 121.8 126.2 130.6 135.0 122.8 127.2 131.6 136.0 123.8 128.2 132.6 136.9 124.8 129.1 133.5 137.9 125.7 130.1 134.5 138.9 126.7 131.1 135.5 139.9 127.7 132.1 136.5 140.9 128.7 133.1 137.5 141.9 129.7 134.1 138.4 142.8 130.6 135.0 139.4 143.8 131.6 136.0 140.4 144.8 132.6 137.0 141.4 145.8 133.6 138.0 142.4 146.8 134.6 139.0 143.4 147.7" fill="#323232">20002001200220032004200520062007200820092010201120122013201420152016201720182019</text>
<text font-size="7.90" transform="translate(0 917.2) scale(1 1.008)" x="136.3 140.7 145.1 149.5 137.3 141.7 146.1 150.5 138.3 142.7 147.1 151.5 139.3 143.7 148.1 152.5 140.3 144.7 149.1 153.5 141.3 145.6 150.0 154.4 142.2 146.6 151.0 155.4 143.2 147.6 152.0 156.4 144.2 148.6 153.0 157.4 145.2 149.6 154.0 158.4 146.2 150.6 154.9 159.3 147.1 151.5 155.9 160.3 148.1 152.5 156.9 161.3 149.1 153.5 157.9 162.3 150.1 154.5 158.9 163.3 151.1 155.5 159.9 164.2 152.1 156.4 160.8 165.2 153.0 157.4 161.8 166.2 154.0 158.4 162.8 167.2 155.0 159.4 163.8 168.2" fill="#323232">20002001200220032004200520062007200820092010201120122013201420152016201720182019</text>
<text font-size="7.90" transform="translate(0 917.2) scale(1 1.008)" x="156.8 161.2 165.6 170.0 157.8 162.2 166.5 170.9 158.7 163.1 167.5 171.9 159.7 164.1 168.5 172.9 160.7 165.1 169.5 173.9 161.7 166.1 170.5 174.9 162.7 167.1 171.5 175.8 163.6 168.0 172.4 176.8 164.6 169.0 173.4 177.8 165.6 170.0 174.4 178.8 166.6 171.0 175.4 179.8 167.6 172.0 176.4 180.8 168.6 172.9 177.3 181.7 169.5 173.9 178.3 182.7 170.5 174.9 179.3 183.7 171.5 175.9 180.3 184.7 172.5 176.9 181.3 185.7 173.5 177.9 182.2 186.6 174.4 178.8 183.2 187.6 175.4 179.8 184.2 188.6" fill="#323232">20002001200220032004200520062007200820092010201120122013201420152016201720182019</text>
<text font-size="7.90" transform="translate(0 917.2) scale(1 1.008)" x="177.2 181.6 186.0 190.4 178.2 182.6 187.0 191.4 179.2 183.6 188.0 192.3 180.2 184.5 188.9 193.3 181.1 185.5 189.9 194.3 182.1 186.5 190.9 195.3 183.1 187.5 191.9 196.3 184.1 188.5 192.9 197.3 185.1 189.4 193.8 198.2 186.0 190.4 194.8 199.2 187.0 191.4 195.8 200.2 188.0 192.4 196.8 201.2 189.0 193.4 197.8 202.2 190.0 194.4 198.7 203.1 190.9 195.3 199.7 204.1 191.9 196.3 200.7 205.1 192.9 197.3 201.7 206.1 193.9 198.3 202.7 207.1 194.9 199.3 203.7 208.0 195.9 200.2 204.6 209.0" fill="#323232">20002001200220032004200520062007200820092010201120122013201420152016201720182019</text>
<text font-size="7.90" transform="translate(0 917.2) scale(1 1.008)" x="197.6 202.0 206.4 210.8 198.6 203.0 207.4 211.8 199.6 204.0 208.4 212.8 200.6 205.0 209.4 213.8 201.6 206.0 210.3 214.7 202.5 206.9 211.3 215.7 203.5 207.9 212.3 216.7 204.5 208.9 213.3 217.7 205.5 209.9 214.3 218.7 206.5 210.9 215.3 219.6 207.4 211.8 216.2 220.6 208.4 212.8 217.2 221.6 209.4 213.8 218.2 222.6 210.4 214.8 219.2 223.6 211.4 215.8 220.2 224.6 212.4 216.7 221.1 225.5 213.3 217.7 222.1 226.5 214.3 218.7 223.1 227.5 215.3 219.7 224.1 228.5 216.3 220.7 225.1 229.5" fill="#323232">20002001200220032004200520062007200820092010201120122013201420152016201720182019</text>
<text font-size="7.90" transform="translate(0 917.2) scale(1 1.008)" x="218.1 222.5 226.8 231.2 219.0 223.4 227.8 232.2 220.0 224.4 228.8 233.2 221.0 225.4 229.8 234.2 222.0 226.4 230.8 235.2 223.0 227.4 231.8 236.1 224.0 228.3 232.7 237.1 224.9 229.3 233.7 238.1 225.9 230.3 234.7 239.1 226.9 231.3 235.7 240.1 227.9 232.3 236.7 241.1 228.9 233.3 237.6 242.0 229.8 234.2 238.6 243.0 230.8 235.2 239.6 244.0 231.8 236.2 240.6 245.0 232.8 237.2 241.6 246.0 233.8 238.2 242.6 246.9 234.7 239.1 243.5 247.9 235.7 240.1 244.5 248.9 236.7 241.1 245.5 249.9" fill="#323232">20002001200220032004200520062007200820092010201120122013201420152016201720182019</text>
<text font-size="7.90" transform="translate(0 917.2) scale(1 1.008)" x="238.5 242.9 247.3 251.7 239.5 243.9 248.3 252.7 240.5 244.8 249.2 253.6 241.4 245.8 250.2 254.6 242.4 246.8 251.2 255.6 243.4 247.8 252.2 256.6 244.4 248.8 253.2 257.6 245.4 249.8 254.1 258.5 246.3 250.7 255.1 259.5 247.3 251.7 256.1 260.5 248.3 252.7 257.1 261.5 249.3 253.7 258.1 262.5 250.3 254.7 259.1 263.4 251.3 255.6 260.0 264.4 252.2 256.6 261.0 265.4 253.2 257.6 262.0 266.4 254.2 258.6 263.0 267.4 255.2 259.6 264.0 268.4 256.2 260.5 264.9 269.3 257.1 261.5 265.9 270.3" fill="#323232">20002001200220032004200520062007200820092010201120122013201420152016201720182019</text>
<text font-size="7.90" transform="translate(0 917.2) scale(1 1.008)" x="258.9 263.3 267.7 272.1 259.9 264.3 268.7 273.1 260.9 265.3 269.7 274.1 261.9 266.3 270.6 275.0 262.8 267.2 271.6 276.0 263.8 268.2 272.6 277.0 264.8 269.2 273.6 278.0 265.8 270.2 274.6 279.0 266.8 271.2 275.6 279.9 267.8 272.1 276.5 280.9 268.7 273.1 277.5 281.9 269.7 274.1 278.5 282.9 270.7 275.1 279.5 283.9 271.7 276.1 280.5 284.9 272.7 277.1 281.4 285.8 273.6 278.0 282.4 286.8 274.6 279.0 283.4 287.8 275.6 280.0 284.4 288.8 276.6 281.0 285.4 289.8 277.6 282.0 286.4 290.7" fill="#323232">20002001200220032004200520062007200820092010201120122013201420152016201720182019</text>
<text font-size="7.90" transform="translate(0 917.2) scale(1 1.008)" x="279.3 283.7 288.1 292.5 280.3 284.7 289.1 293.5 281.3 285.7 290.1 294.5 282.3 286.7 291.1 295.5 283.3 287.7 292.1 296.5 284.3 288.6 293.0 297.4 285.2 289.6 294.0 298.4 286.2 290.6 295.0 299.4 287.2 291.6 296.0 300.4 288.2 292.6 297.0 301.4 289.2 293.6 297.9 302.3 290.1 294.5 298.9 303.3 291.1 295.5 299.9 304.3 292.1 296.5 300.9 305.3 293.1 297.5 301.9 306.3 294.1 298.5 302.9 307.2 295.1 299.4 303.8 308.2 296.0 300.4 304.8 309.2 297.0 301.4 305.8 310.2 298.0 302.4 306.8 311.2" fill="#323232">20002001200220032004200520062007200820092010201120122013201420152016201720182019</text>
<text font-size="7.90" transform="translate(0 917.2) scale(1 1.008)" x="299.8 304.2 308.6 313.0 300.8 305.2 309.5 313.9 301.7 306.1 310.5 314.9 302.7 307.1 311.5 315.9 303.7 308.1 312.5 316.9 304.7 309.1 313.5 317.9 305.7 310.1 314.5 318.8 306.6 311.0 315.4 319.8 307.6 312.0 316.4 320.8 308.6 313.0 317.4 321.8 309.6 314.0 318.4 322.8 310.6 315.0 319.4 323.8 311.6 315.9 320.3 324.7 312.5 316.9 321.3 325.7 313.5 317.9 322.3 326.7 314.5 318.9 323.3 327.7 315.5 319.9 324.3 328.7 316.5 320.9 325.2 329.6 317.4 321.8 326.2 330.6 318.4 322.8 327.2 331.6" fill="#323232">20002001200220032004200520062007200820092010201120122013201420152016201720182019</text>
<text font-size="9.4" fill="#2a2a2a" text-anchor="middle" transform="translate(52.9 929.1) scale(1 0.85)">1</text>
<text font-size="9.4" fill="#2a2a2a" text-anchor="middle" transform="translate(73.3 929.1) scale(1 0.85)">2</text>
<text font-size="9.4" fill="#2a2a2a" text-anchor="middle" transform="translate(93.8 929.1) scale(1 0.85)">3</text>
<text font-size="9.4" fill="#2a2a2a" text-anchor="middle" transform="translate(114.2 929.1) scale(1 0.85)">4</text>
<text font-size="9.4" fill="#2a2a2a" text-anchor="middle" transform="translate(134.6 929.1) scale(1 0.85)">5</text>
<text font-size="9.4" fill="#2a2a2a" text-anchor="middle" transform="translate(155.1 929.1) scale(1 0.85)">6</text>
<text font-size="9.4" fill="#2a2a2a" text-anchor="middle" transform="translate(175.5 929.1) scale(1 0.85)">7</text>
<text font-size="9.4" fill="#2a2a2a" text-anchor="middle" transform="translate(195.9 929.1) scale(1 0.85)">8</text>
<text font-size="9.4" fill="#2a2a2a" text-anchor="middle" transform="translate(216.3 929.1) scale(1 0.85)">9</text>
<text font-size="9.4" fill="#2a2a2a" text-anchor="middle" transform="translate(236.8 929.1) scale(1 0.85)">10</text>
<text font-size="9.4" fill="#2a2a2a" text-anchor="middle" transform="translate(257.2 929.1) scale(1 0.85)">11</text>
<text font-size="9.4" fill="#2a2a2a" text-anchor="middle" transform="translate(277.6 929.1) scale(1 0.85)">12</text>
<text font-size="9.4" fill="#2a2a2a" text-anchor="middle" transform="translate(298.1 929.1) scale(1 0.85)">13</text>
<text font-size="9.4" fill="#2a2a2a" text-anchor="middle" transform="translate(318.5 929.1) scale(1 0.85)">14</text>
<text class="t" font-size="18.6" stroke="#000" stroke-width="0.0" transform="translate(0.3 956.0) scale(1 1.06)">POPG</text>
</svg></body></html>
